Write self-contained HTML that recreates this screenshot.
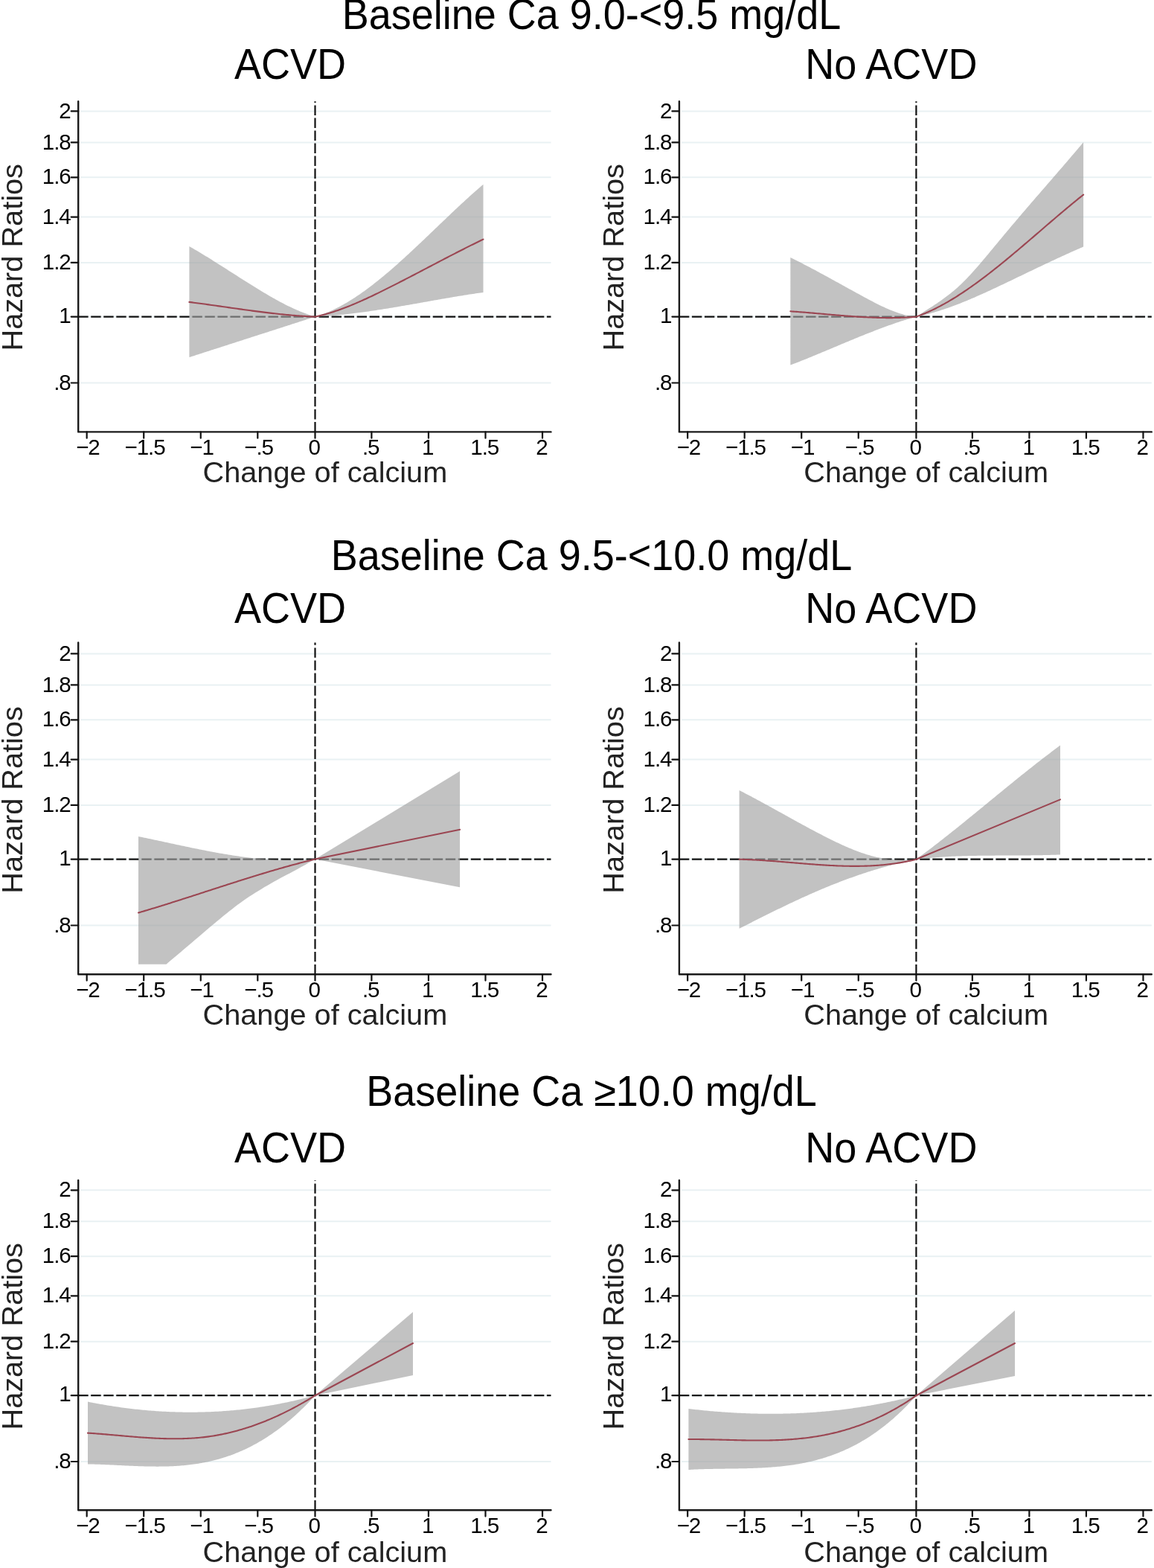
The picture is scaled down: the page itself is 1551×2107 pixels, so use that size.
<!DOCTYPE html><html><head><meta charset="utf-8"><title>Hazard ratios by change of calcium</title>
<style>html,body{margin:0;padding:0;background:#fff;overflow:hidden}svg{display:block}text{font-family:'Liberation Sans', Arial, Helvetica, sans-serif;fill:#000}</style></head><body>
<svg width="1551" height="2107" viewBox="0 0 1551 2107">
<rect width="1551" height="2107" fill="#fff"/>
<text transform="translate(795.05 38.7) scale(1 1.05)" font-size="53.97" text-anchor="middle">Baseline Ca 9.0-&lt;9.5 mg/dL</text>
<g>
<line x1="108.2" y1="149.45" x2="740.5" y2="149.45" stroke="#e9f1f3" stroke-width="2"/>
<line x1="108.2" y1="191.43" x2="740.5" y2="191.43" stroke="#e9f1f3" stroke-width="2"/>
<line x1="108.2" y1="238.35" x2="740.5" y2="238.35" stroke="#e9f1f3" stroke-width="2"/>
<line x1="108.2" y1="291.55" x2="740.5" y2="291.55" stroke="#e9f1f3" stroke-width="2"/>
<line x1="108.2" y1="352.96" x2="740.5" y2="352.96" stroke="#e9f1f3" stroke-width="2"/>
<line x1="108.2" y1="425.6" x2="740.5" y2="425.6" stroke="#e9f1f3" stroke-width="2"/>
<line x1="108.2" y1="514.5" x2="740.5" y2="514.5" stroke="#e9f1f3" stroke-width="2"/>
<line x1="105.2" y1="425.6" x2="740.5" y2="425.6" stroke="#111" stroke-width="2.2" stroke-dasharray="13.4 3.62"/>
<line x1="423.5" y1="580.4" x2="423.5" y2="136.2" stroke="#111" stroke-width="2.2" stroke-dasharray="13.4 3.62"/>
<path d="M254.4 331L256.41 332.15L258.43 333.31L260.44 334.48L262.45 335.66L264.47 336.85L266.48 338.05L268.49 339.25L270.5 340.46L272.52 341.68L274.53 342.91L276.54 344.14L278.56 345.37L280.57 346.62L282.58 347.87L284.6 349.12L286.61 350.38L288.62 351.64L290.64 352.91L292.65 354.18L294.66 355.45L296.68 356.73L298.69 358.01L300.7 359.29L302.71 360.57L304.73 361.86L306.74 363.14L308.75 364.43L310.77 365.71L312.78 367L314.79 368.29L316.81 369.57L318.82 370.86L320.83 372.14L322.85 373.43L324.86 374.71L326.87 375.98L328.88 377.26L330.9 378.53L332.91 379.8L334.92 381.07L336.94 382.33L338.95 383.58L340.96 384.84L342.98 386.08L344.99 387.32L347 388.56L349.02 389.79L351.03 391.01L353.04 392.22L355.05 393.43L357.07 394.62L359.08 395.81L361.09 396.99L363.11 398.15L365.12 399.31L367.13 400.45L369.15 401.58L371.16 402.7L373.17 403.81L375.19 404.9L377.2 405.98L379.21 407.04L381.23 408.09L383.24 409.13L385.25 410.14L387.26 411.14L389.28 412.12L391.29 413.09L393.3 414.03L395.32 414.96L397.33 415.86L399.34 416.75L401.36 417.61L403.37 418.46L405.38 419.28L407.4 420.08L409.41 420.86L411.42 421.61L413.43 422.34L415.45 423.04L417.46 423.72L419.47 424.37L421.49 425L423.5 425.6L425.5 425.01L427.5 424.39L429.5 423.73L431.5 423.05L433.5 422.33L435.5 421.58L437.5 420.8L439.5 419.99L441.5 419.16L443.5 418.29L445.5 417.39L447.5 416.47L449.5 415.51L451.5 414.53L453.5 413.52L455.5 412.49L457.5 411.43L459.5 410.34L461.5 409.23L463.5 408.09L465.5 406.92L467.5 405.74L469.5 404.52L471.5 403.29L473.5 402.03L475.5 400.75L477.5 399.44L479.5 398.12L481.5 396.77L483.5 395.4L485.5 394.01L487.5 392.6L489.5 391.17L491.5 389.72L493.5 388.25L495.5 386.76L497.5 385.25L499.5 383.73L501.5 382.18L503.5 380.62L505.5 379.05L507.5 377.45L509.5 375.85L511.5 374.22L513.5 372.58L515.5 370.93L517.5 369.26L519.5 367.58L521.5 365.88L523.5 364.17L525.5 362.45L527.5 360.71L529.5 358.97L531.5 357.21L533.5 355.44L535.5 353.66L537.5 351.87L539.5 350.07L541.5 348.26L543.5 346.44L545.5 344.61L547.5 342.78L549.5 340.93L551.5 339.08L553.5 337.22L555.5 335.36L557.5 333.49L559.5 331.61L561.5 329.73L563.5 327.84L565.5 325.95L567.5 324.05L569.5 322.15L571.5 320.25L573.5 318.34L575.5 316.43L577.5 314.52L579.5 312.61L581.5 310.7L583.5 308.78L585.5 306.86L587.5 304.95L589.5 303.03L591.5 301.12L593.5 299.2L595.5 297.29L597.5 295.38L599.5 293.47L601.5 291.57L603.5 289.66L605.5 287.77L607.5 285.87L609.5 283.98L611.5 282.09L613.5 280.21L615.5 278.34L617.5 276.47L619.5 274.6L621.5 272.75L623.5 270.9L625.5 269.06L627.5 267.22L629.5 265.4L631.5 263.58L633.5 261.78L635.5 259.98L637.5 258.19L639.5 256.41L641.5 254.65L643.5 252.89L645.5 251.15L647.5 249.42L649.5 247.7L649.5 392.9L647.5 393.18L645.5 393.47L643.5 393.75L641.5 394.05L639.5 394.34L637.5 394.64L635.5 394.94L633.5 395.25L631.5 395.56L629.5 395.87L627.5 396.18L625.5 396.5L623.5 396.82L621.5 397.14L619.5 397.46L617.5 397.79L615.5 398.12L613.5 398.45L611.5 398.79L609.5 399.12L607.5 399.46L605.5 399.8L603.5 400.14L601.5 400.48L599.5 400.83L597.5 401.17L595.5 401.52L593.5 401.87L591.5 402.22L589.5 402.57L587.5 402.92L585.5 403.27L583.5 403.62L581.5 403.98L579.5 404.33L577.5 404.68L575.5 405.04L573.5 405.39L571.5 405.75L569.5 406.1L567.5 406.46L565.5 406.81L563.5 407.17L561.5 407.52L559.5 407.88L557.5 408.23L555.5 408.58L553.5 408.94L551.5 409.29L549.5 409.64L547.5 409.99L545.5 410.34L543.5 410.68L541.5 411.03L539.5 411.37L537.5 411.72L535.5 412.06L533.5 412.4L531.5 412.73L529.5 413.07L527.5 413.4L525.5 413.74L523.5 414.07L521.5 414.39L519.5 414.72L517.5 415.04L515.5 415.36L513.5 415.68L511.5 415.99L509.5 416.3L507.5 416.61L505.5 416.92L503.5 417.22L501.5 417.52L499.5 417.82L497.5 418.11L495.5 418.4L493.5 418.68L491.5 418.96L489.5 419.24L487.5 419.51L485.5 419.78L483.5 420.05L481.5 420.31L479.5 420.57L477.5 420.82L475.5 421.07L473.5 421.31L471.5 421.55L469.5 421.78L467.5 422.01L465.5 422.23L463.5 422.45L461.5 422.67L459.5 422.87L457.5 423.08L455.5 423.27L453.5 423.47L451.5 423.65L449.5 423.83L447.5 424.01L445.5 424.17L443.5 424.34L441.5 424.49L439.5 424.64L437.5 424.79L435.5 424.92L433.5 425.05L431.5 425.18L429.5 425.29L427.5 425.4L425.5 425.51L423.5 425.6L421.49 426.25L419.47 426.9L417.46 427.55L415.45 428.2L413.43 428.85L411.42 429.5L409.41 430.15L407.4 430.8L405.38 431.45L403.37 432.1L401.36 432.75L399.34 433.4L397.33 434.05L395.32 434.7L393.3 435.35L391.29 436L389.28 436.65L387.26 437.29L385.25 437.94L383.24 438.59L381.23 439.24L379.21 439.89L377.2 440.54L375.19 441.19L373.17 441.84L371.16 442.49L369.15 443.14L367.13 443.79L365.12 444.43L363.11 445.08L361.09 445.73L359.08 446.38L357.07 447.03L355.05 447.68L353.04 448.33L351.03 448.97L349.02 449.62L347 450.27L344.99 450.92L342.98 451.57L340.96 452.22L338.95 452.87L336.94 453.51L334.92 454.16L332.91 454.81L330.9 455.46L328.88 456.11L326.87 456.76L324.86 457.4L322.85 458.05L320.83 458.7L318.82 459.35L316.81 460L314.79 460.65L312.78 461.29L310.77 461.94L308.75 462.59L306.74 463.24L304.73 463.89L302.71 464.54L300.7 465.18L298.69 465.83L296.68 466.48L294.66 467.13L292.65 467.78L290.64 468.43L288.62 469.07L286.61 469.72L284.6 470.37L282.58 471.02L280.57 471.67L278.56 472.32L276.54 472.97L274.53 473.61L272.52 474.26L270.5 474.91L268.49 475.56L266.48 476.21L264.47 476.86L262.45 477.51L260.44 478.15L258.43 478.8L256.41 479.45L254.4 480.1Z" fill="#a1a1a1" fill-opacity="0.65"/>
<path d="M254.4 405.9L256.41 406.16L258.43 406.41L260.44 406.67L262.45 406.94L264.47 407.2L266.48 407.47L268.49 407.74L270.5 408.01L272.52 408.28L274.53 408.56L276.54 408.83L278.56 409.11L280.57 409.39L282.58 409.67L284.6 409.95L286.61 410.24L288.62 410.52L290.64 410.8L292.65 411.09L294.66 411.38L296.68 411.66L298.69 411.95L300.7 412.24L302.71 412.52L304.73 412.81L306.74 413.1L308.75 413.39L310.77 413.67L312.78 413.96L314.79 414.25L316.81 414.53L318.82 414.81L320.83 415.1L322.85 415.38L324.86 415.66L326.87 415.94L328.88 416.22L330.9 416.5L332.91 416.77L334.92 417.05L336.94 417.32L338.95 417.59L340.96 417.86L342.98 418.12L344.99 418.38L347 418.65L349.02 418.9L351.03 419.16L353.04 419.41L355.05 419.66L357.07 419.91L359.08 420.15L361.09 420.39L363.11 420.63L365.12 420.86L367.13 421.09L369.15 421.32L371.16 421.54L373.17 421.76L375.19 421.98L377.2 422.19L379.21 422.39L381.23 422.59L383.24 422.79L385.25 422.98L387.26 423.17L389.28 423.35L391.29 423.53L393.3 423.7L395.32 423.87L397.33 424.03L399.34 424.19L401.36 424.34L403.37 424.49L405.38 424.63L407.4 424.76L409.41 424.89L411.42 425.01L413.43 425.12L415.45 425.23L417.46 425.33L419.47 425.43L421.49 425.52L423.5 425.6L425.5 425.17L427.5 424.72L429.5 424.24L431.5 423.75L433.5 423.24L435.5 422.71L437.5 422.16L439.5 421.59L441.5 421.01L443.5 420.4L445.5 419.78L447.5 419.15L449.5 418.5L451.5 417.83L453.5 417.14L455.5 416.45L457.5 415.73L459.5 415L461.5 414.26L463.5 413.5L465.5 412.73L467.5 411.95L469.5 411.16L471.5 410.35L473.5 409.53L475.5 408.7L477.5 407.85L479.5 407L481.5 406.14L483.5 405.26L485.5 404.38L487.5 403.48L489.5 402.58L491.5 401.67L493.5 400.75L495.5 399.82L497.5 398.88L499.5 397.94L501.5 396.99L503.5 396.03L505.5 395.07L507.5 394.1L509.5 393.13L511.5 392.15L513.5 391.16L515.5 390.17L517.5 389.18L519.5 388.18L521.5 387.18L523.5 386.17L525.5 385.17L527.5 384.16L529.5 383.14L531.5 382.12L533.5 381.11L535.5 380.08L537.5 379.06L539.5 378.03L541.5 377L543.5 375.97L545.5 374.94L547.5 373.9L549.5 372.87L551.5 371.83L553.5 370.79L555.5 369.75L557.5 368.71L559.5 367.66L561.5 366.62L563.5 365.57L565.5 364.53L567.5 363.48L569.5 362.43L571.5 361.39L573.5 360.34L575.5 359.29L577.5 358.24L579.5 357.2L581.5 356.15L583.5 355.1L585.5 354.06L587.5 353.01L589.5 351.96L591.5 350.92L593.5 349.88L595.5 348.84L597.5 347.8L599.5 346.76L601.5 345.72L603.5 344.68L605.5 343.65L607.5 342.62L609.5 341.59L611.5 340.56L613.5 339.53L615.5 338.51L617.5 337.49L619.5 336.47L621.5 335.45L623.5 334.44L625.5 333.43L627.5 332.43L629.5 331.42L631.5 330.42L633.5 329.43L635.5 328.44L637.5 327.45L639.5 326.46L641.5 325.48L643.5 324.51L645.5 323.53L647.5 322.57L649.5 321.6" fill="none" stroke="#9b4652" stroke-width="2.1" stroke-linejoin="round" stroke-linecap="round"/>
<path d="M105.2 136.2V580.4H740.5" fill="none" stroke="#1a1a1a" stroke-width="2.4" stroke-linecap="round" stroke-linejoin="round"/>
<line x1="95.7" y1="149.45" x2="105.2" y2="149.45" stroke="#111" stroke-width="2.2" stroke-linecap="round"/>
<text x="94.7" y="158.55" font-size="29.6" text-anchor="end" letter-spacing="-1.1">2</text>
<line x1="95.7" y1="191.43" x2="105.2" y2="191.43" stroke="#111" stroke-width="2.2" stroke-linecap="round"/>
<text x="94.7" y="200.53" font-size="29.6" text-anchor="end" letter-spacing="-1.1">1.8</text>
<line x1="95.7" y1="238.35" x2="105.2" y2="238.35" stroke="#111" stroke-width="2.2" stroke-linecap="round"/>
<text x="94.7" y="247.45" font-size="29.6" text-anchor="end" letter-spacing="-1.1">1.6</text>
<line x1="95.7" y1="291.55" x2="105.2" y2="291.55" stroke="#111" stroke-width="2.2" stroke-linecap="round"/>
<text x="94.7" y="300.65" font-size="29.6" text-anchor="end" letter-spacing="-1.1">1.4</text>
<line x1="95.7" y1="352.96" x2="105.2" y2="352.96" stroke="#111" stroke-width="2.2" stroke-linecap="round"/>
<text x="94.7" y="362.06" font-size="29.6" text-anchor="end" letter-spacing="-1.1">1.2</text>
<line x1="95.7" y1="425.6" x2="105.2" y2="425.6" stroke="#111" stroke-width="2.2" stroke-linecap="round"/>
<text x="94.7" y="433.7" font-size="29.6" text-anchor="end" letter-spacing="-1.1">1</text>
<line x1="95.7" y1="514.5" x2="105.2" y2="514.5" stroke="#111" stroke-width="2.2" stroke-linecap="round"/>
<text x="94.7" y="523.6" font-size="29.6" text-anchor="end" letter-spacing="-1.1">.8</text>
<line x1="116.67" y1="580.4" x2="116.67" y2="588.7" stroke="#111" stroke-width="2.2" stroke-linecap="round"/>
<text x="117.97" y="611.1" font-size="29.6" text-anchor="middle" letter-spacing="-1.1">−2</text>
<line x1="193.22" y1="580.4" x2="193.22" y2="588.7" stroke="#111" stroke-width="2.2" stroke-linecap="round"/>
<text x="194.52" y="611.1" font-size="29.6" text-anchor="middle" letter-spacing="-1.1">−1.5</text>
<line x1="269.76" y1="580.4" x2="269.76" y2="588.7" stroke="#111" stroke-width="2.2" stroke-linecap="round"/>
<text x="271.06" y="611.1" font-size="29.6" text-anchor="middle" letter-spacing="-1.1">−1</text>
<line x1="346.31" y1="580.4" x2="346.31" y2="588.7" stroke="#111" stroke-width="2.2" stroke-linecap="round"/>
<text x="347.61" y="611.1" font-size="29.6" text-anchor="middle" letter-spacing="-1.1">−.5</text>
<line x1="423.5" y1="580.4" x2="423.5" y2="588.7" stroke="#111" stroke-width="2.2" stroke-linecap="round"/>
<text x="422.3" y="611.1" font-size="29.6" text-anchor="middle" letter-spacing="-1.1">0</text>
<line x1="499.4" y1="580.4" x2="499.4" y2="588.7" stroke="#111" stroke-width="2.2" stroke-linecap="round"/>
<text x="498.2" y="611.1" font-size="29.6" text-anchor="middle" letter-spacing="-1.1">.5</text>
<line x1="575.94" y1="580.4" x2="575.94" y2="588.7" stroke="#111" stroke-width="2.2" stroke-linecap="round"/>
<text x="574.74" y="611.1" font-size="29.6" text-anchor="middle" letter-spacing="-1.1">1</text>
<line x1="652.49" y1="580.4" x2="652.49" y2="588.7" stroke="#111" stroke-width="2.2" stroke-linecap="round"/>
<text x="651.28" y="611.1" font-size="29.6" text-anchor="middle" letter-spacing="-1.1">1.5</text>
<line x1="729.03" y1="580.4" x2="729.03" y2="588.7" stroke="#111" stroke-width="2.2" stroke-linecap="round"/>
<text x="727.83" y="611.1" font-size="29.6" text-anchor="middle" letter-spacing="-1.1">2</text>
<text x="436.9" y="648.4" font-size="39.7" text-anchor="middle" style="fill:#222">Change of calcium</text>
<text transform="translate(30.2 345.8) rotate(-90) scale(1 1)" font-size="39.7" text-anchor="middle" style="fill:#222">Hazard Ratios</text>
<text transform="translate(390.05 105.7) scale(1 1.05)" font-size="54.05" text-anchor="middle">ACVD</text>
</g>
<g>
<line x1="915.9" y1="149.45" x2="1547.8" y2="149.45" stroke="#e9f1f3" stroke-width="2"/>
<line x1="915.9" y1="191.43" x2="1547.8" y2="191.43" stroke="#e9f1f3" stroke-width="2"/>
<line x1="915.9" y1="238.35" x2="1547.8" y2="238.35" stroke="#e9f1f3" stroke-width="2"/>
<line x1="915.9" y1="291.55" x2="1547.8" y2="291.55" stroke="#e9f1f3" stroke-width="2"/>
<line x1="915.9" y1="352.96" x2="1547.8" y2="352.96" stroke="#e9f1f3" stroke-width="2"/>
<line x1="915.9" y1="425.6" x2="1547.8" y2="425.6" stroke="#e9f1f3" stroke-width="2"/>
<line x1="915.9" y1="514.5" x2="1547.8" y2="514.5" stroke="#e9f1f3" stroke-width="2"/>
<line x1="912.9" y1="425.6" x2="1547.8" y2="425.6" stroke="#111" stroke-width="2.2" stroke-dasharray="13.4 3.62"/>
<line x1="1231.4" y1="580.4" x2="1231.4" y2="136.2" stroke="#111" stroke-width="2.2" stroke-dasharray="13.4 3.62"/>
<path d="M1062.35 346L1064.36 346.99L1066.38 347.98L1068.39 348.98L1070.4 349.99L1072.41 351.01L1074.42 352.03L1076.44 353.06L1078.45 354.09L1080.46 355.13L1082.47 356.17L1084.49 357.22L1086.5 358.28L1088.51 359.34L1090.52 360.4L1092.54 361.47L1094.55 362.55L1096.56 363.62L1098.58 364.7L1100.59 365.79L1102.6 366.88L1104.61 367.97L1106.62 369.06L1108.64 370.16L1110.65 371.26L1112.66 372.36L1114.67 373.46L1116.69 374.57L1118.7 375.68L1120.71 376.78L1122.72 377.89L1124.74 379L1126.75 380.11L1128.76 381.23L1130.78 382.34L1132.79 383.45L1134.8 384.56L1136.81 385.67L1138.83 386.78L1140.84 387.89L1142.85 389L1144.86 390.11L1146.88 391.21L1148.89 392.32L1150.9 393.42L1152.91 394.52L1154.92 395.62L1156.94 396.71L1158.95 397.8L1160.96 398.89L1162.97 399.98L1164.99 401.06L1167 402.14L1169.01 403.21L1171.03 404.28L1173.04 405.33L1175.05 406.38L1177.06 407.41L1179.08 408.43L1181.09 409.43L1183.1 410.42L1185.11 411.39L1187.12 412.34L1189.14 413.27L1191.15 414.18L1193.16 415.07L1195.17 415.93L1197.19 416.77L1199.2 417.58L1201.21 418.35L1203.23 419.1L1205.24 419.82L1207.25 420.5L1209.26 421.15L1211.28 421.77L1213.29 422.34L1215.3 422.88L1217.31 423.38L1219.33 423.83L1221.34 424.24L1223.35 424.61L1225.36 424.93L1227.38 425.2L1229.39 425.43L1231.4 425.6L1233.41 424.29L1235.41 422.98L1237.42 421.69L1239.43 420.4L1241.43 419.12L1243.44 417.84L1245.44 416.56L1247.45 415.27L1249.46 413.99L1251.46 412.69L1253.47 411.38L1255.48 410.07L1257.48 408.74L1259.49 407.39L1261.49 406.03L1263.5 404.64L1265.51 403.24L1267.51 401.81L1269.52 400.35L1271.53 398.86L1273.53 397.34L1275.54 395.79L1277.54 394.21L1279.55 392.58L1281.56 390.92L1283.56 389.21L1285.57 387.46L1287.58 385.66L1289.58 383.81L1291.59 381.92L1293.59 379.97L1295.6 377.98L1297.61 375.95L1299.61 373.88L1301.62 371.78L1303.62 369.63L1305.63 367.45L1307.64 365.24L1309.64 363.01L1311.65 360.74L1313.66 358.45L1315.66 356.14L1317.67 353.8L1319.67 351.45L1321.68 349.09L1323.69 346.71L1325.69 344.31L1327.7 341.91L1329.71 339.5L1331.71 337.09L1333.72 334.67L1335.72 332.25L1337.73 329.83L1339.74 327.4L1341.74 324.98L1343.75 322.56L1345.76 320.14L1347.76 317.72L1349.77 315.32L1351.78 312.91L1353.78 310.52L1355.79 308.13L1357.79 305.75L1359.8 303.37L1361.81 300.99L1363.81 298.63L1365.82 296.26L1367.83 293.9L1369.83 291.55L1371.84 289.2L1373.84 286.85L1375.85 284.51L1377.86 282.17L1379.86 279.83L1381.87 277.5L1383.88 275.17L1385.88 272.84L1387.89 270.52L1389.89 268.19L1391.9 265.87L1393.91 263.55L1395.91 261.23L1397.92 258.91L1399.92 256.6L1401.93 254.28L1403.94 251.97L1405.94 249.65L1407.95 247.34L1409.96 245.02L1411.96 242.71L1413.97 240.39L1415.97 238.07L1417.98 235.75L1419.99 233.43L1421.99 231.11L1424 228.79L1426.01 226.46L1428.01 224.14L1430.02 221.81L1432.02 219.48L1434.03 217.14L1436.04 214.8L1438.04 212.46L1440.05 210.12L1442.06 207.77L1444.06 205.41L1446.07 203.06L1448.07 200.7L1450.08 198.33L1452.09 195.96L1454.09 193.58L1456.1 191.2L1456.1 331.6L1454.09 332.46L1452.09 333.33L1450.08 334.2L1448.07 335.07L1446.07 335.95L1444.06 336.84L1442.06 337.73L1440.05 338.62L1438.04 339.52L1436.04 340.42L1434.03 341.32L1432.02 342.23L1430.02 343.15L1428.01 344.06L1426.01 344.98L1424 345.91L1421.99 346.83L1419.99 347.76L1417.98 348.7L1415.97 349.63L1413.97 350.57L1411.96 351.51L1409.96 352.45L1407.95 353.4L1405.94 354.35L1403.94 355.3L1401.93 356.25L1399.92 357.2L1397.92 358.15L1395.91 359.11L1393.91 360.07L1391.9 361.03L1389.89 361.99L1387.89 362.95L1385.88 363.91L1383.88 364.87L1381.87 365.83L1379.86 366.8L1377.86 367.76L1375.85 368.73L1373.84 369.69L1371.84 370.65L1369.83 371.62L1367.83 372.58L1365.82 373.54L1363.81 374.5L1361.81 375.47L1359.8 376.43L1357.79 377.39L1355.79 378.34L1353.78 379.3L1351.78 380.26L1349.77 381.21L1347.76 382.16L1345.76 383.11L1343.75 384.06L1341.74 385.01L1339.74 385.95L1337.73 386.89L1335.72 387.83L1333.72 388.77L1331.71 389.7L1329.71 390.63L1327.7 391.55L1325.69 392.47L1323.69 393.38L1321.68 394.29L1319.67 395.2L1317.67 396.09L1315.66 396.99L1313.66 397.87L1311.65 398.75L1309.64 399.63L1307.64 400.49L1305.63 401.35L1303.62 402.21L1301.62 403.05L1299.61 403.89L1297.61 404.71L1295.6 405.53L1293.59 406.34L1291.59 407.15L1289.58 407.94L1287.58 408.72L1285.57 409.49L1283.56 410.26L1281.56 411.01L1279.55 411.75L1277.54 412.48L1275.54 413.2L1273.53 413.91L1271.53 414.6L1269.52 415.29L1267.51 415.96L1265.51 416.62L1263.5 417.26L1261.49 417.89L1259.49 418.51L1257.48 419.12L1255.48 419.71L1253.47 420.28L1251.46 420.85L1249.46 421.39L1247.45 421.93L1245.44 422.44L1243.44 422.94L1241.43 423.43L1239.43 423.9L1237.42 424.35L1235.41 424.78L1233.41 425.2L1231.4 425.6L1229.39 426.15L1227.38 426.72L1225.36 427.3L1223.35 427.89L1221.34 428.48L1219.33 429.09L1217.31 429.71L1215.3 430.34L1213.29 430.98L1211.28 431.62L1209.26 432.28L1207.25 432.95L1205.24 433.62L1203.23 434.3L1201.21 434.99L1199.2 435.69L1197.19 436.39L1195.17 437.11L1193.16 437.83L1191.15 438.56L1189.14 439.29L1187.12 440.03L1185.11 440.78L1183.1 441.53L1181.09 442.29L1179.08 443.06L1177.06 443.83L1175.05 444.61L1173.04 445.39L1171.03 446.17L1169.01 446.97L1167 447.76L1164.99 448.56L1162.97 449.37L1160.96 450.17L1158.95 450.98L1156.94 451.8L1154.92 452.62L1152.91 453.44L1150.9 454.26L1148.89 455.09L1146.88 455.92L1144.86 456.75L1142.85 457.59L1140.84 458.42L1138.83 459.26L1136.81 460.1L1134.8 460.94L1132.79 461.78L1130.78 462.62L1128.76 463.47L1126.75 464.31L1124.74 465.16L1122.72 466L1120.71 466.85L1118.7 467.69L1116.69 468.54L1114.67 469.38L1112.66 470.23L1110.65 471.07L1108.64 471.91L1106.62 472.75L1104.61 473.59L1102.6 474.43L1100.59 475.27L1098.58 476.1L1096.56 476.93L1094.55 477.77L1092.54 478.59L1090.52 479.42L1088.51 480.24L1086.5 481.06L1084.49 481.88L1082.47 482.69L1080.46 483.5L1078.45 484.31L1076.44 485.11L1074.42 485.91L1072.41 486.7L1070.4 487.49L1068.39 488.27L1066.38 489.05L1064.36 489.83L1062.35 490.6Z" fill="#a1a1a1" fill-opacity="0.65"/>
<path d="M1062.35 418.3L1064.36 418.44L1066.38 418.58L1068.39 418.72L1070.4 418.87L1072.41 419.02L1074.42 419.18L1076.44 419.34L1078.45 419.5L1080.46 419.66L1082.47 419.82L1084.49 419.99L1086.5 420.16L1088.51 420.33L1090.52 420.5L1092.54 420.67L1094.55 420.85L1096.56 421.02L1098.58 421.2L1100.59 421.38L1102.6 421.55L1104.61 421.73L1106.62 421.91L1108.64 422.09L1110.65 422.27L1112.66 422.44L1114.67 422.62L1116.69 422.8L1118.7 422.97L1120.71 423.14L1122.72 423.32L1124.74 423.49L1126.75 423.66L1128.76 423.82L1130.78 423.99L1132.79 424.15L1134.8 424.31L1136.81 424.47L1138.83 424.62L1140.84 424.78L1142.85 424.92L1144.86 425.07L1146.88 425.21L1148.89 425.35L1150.9 425.48L1152.91 425.61L1154.92 425.74L1156.94 425.86L1158.95 425.98L1160.96 426.09L1162.97 426.2L1164.99 426.3L1167 426.4L1169.01 426.49L1171.03 426.57L1173.04 426.65L1175.05 426.73L1177.06 426.8L1179.08 426.86L1181.09 426.91L1183.1 426.96L1185.11 427L1187.12 427.03L1189.14 427.06L1191.15 427.08L1193.16 427.09L1195.17 427.09L1197.19 427.09L1199.2 427.08L1201.21 427.05L1203.23 427.02L1205.24 426.98L1207.25 426.94L1209.26 426.88L1211.28 426.81L1213.29 426.74L1215.3 426.65L1217.31 426.56L1219.33 426.45L1221.34 426.34L1223.35 426.21L1225.36 426.08L1227.38 425.93L1229.39 425.77L1231.4 425.6L1233.41 424.88L1235.41 424.14L1237.42 423.37L1239.43 422.58L1241.43 421.77L1243.44 420.93L1245.44 420.07L1247.45 419.18L1249.46 418.28L1251.46 417.35L1253.47 416.4L1255.48 415.43L1257.48 414.44L1259.49 413.43L1261.49 412.39L1263.5 411.34L1265.51 410.27L1267.51 409.18L1269.52 408.07L1271.53 406.93L1273.53 405.79L1275.54 404.62L1277.54 403.43L1279.55 402.23L1281.56 401.01L1283.56 399.77L1285.57 398.52L1287.58 397.24L1289.58 395.96L1291.59 394.65L1293.59 393.33L1295.6 392L1297.61 390.65L1299.61 389.28L1301.62 387.9L1303.62 386.51L1305.63 385.1L1307.64 383.68L1309.64 382.25L1311.65 380.8L1313.66 379.34L1315.66 377.87L1317.67 376.38L1319.67 374.88L1321.68 373.38L1323.69 371.86L1325.69 370.33L1327.7 368.79L1329.71 367.23L1331.71 365.67L1333.72 364.1L1335.72 362.52L1337.73 360.93L1339.74 359.33L1341.74 357.73L1343.75 356.11L1345.76 354.49L1347.76 352.86L1349.77 351.22L1351.78 349.57L1353.78 347.92L1355.79 346.26L1357.79 344.59L1359.8 342.92L1361.81 341.25L1363.81 339.57L1365.82 337.88L1367.83 336.19L1369.83 334.49L1371.84 332.79L1373.84 331.09L1375.85 329.38L1377.86 327.67L1379.86 325.95L1381.87 324.24L1383.88 322.52L1385.88 320.8L1387.89 319.08L1389.89 317.35L1391.9 315.63L1393.91 313.9L1395.91 312.18L1397.92 310.45L1399.92 308.72L1401.93 307L1403.94 305.27L1405.94 303.55L1407.95 301.82L1409.96 300.1L1411.96 298.38L1413.97 296.66L1415.97 294.95L1417.98 293.23L1419.99 291.52L1421.99 289.82L1424 288.12L1426.01 286.42L1428.01 284.72L1430.02 283.03L1432.02 281.35L1434.03 279.67L1436.04 277.99L1438.04 276.32L1440.05 274.66L1442.06 273L1444.06 271.35L1446.07 269.71L1448.07 268.07L1450.08 266.44L1452.09 264.82L1454.09 263.21L1456.1 261.6" fill="none" stroke="#9b4652" stroke-width="2.1" stroke-linejoin="round" stroke-linecap="round"/>
<path d="M912.9 136.2V580.4H1547.8" fill="none" stroke="#1a1a1a" stroke-width="2.4" stroke-linecap="round" stroke-linejoin="round"/>
<line x1="903.4" y1="149.45" x2="912.9" y2="149.45" stroke="#111" stroke-width="2.2" stroke-linecap="round"/>
<text x="902.4" y="158.55" font-size="29.6" text-anchor="end" letter-spacing="-1.1">2</text>
<line x1="903.4" y1="191.43" x2="912.9" y2="191.43" stroke="#111" stroke-width="2.2" stroke-linecap="round"/>
<text x="902.4" y="200.53" font-size="29.6" text-anchor="end" letter-spacing="-1.1">1.8</text>
<line x1="903.4" y1="238.35" x2="912.9" y2="238.35" stroke="#111" stroke-width="2.2" stroke-linecap="round"/>
<text x="902.4" y="247.45" font-size="29.6" text-anchor="end" letter-spacing="-1.1">1.6</text>
<line x1="903.4" y1="291.55" x2="912.9" y2="291.55" stroke="#111" stroke-width="2.2" stroke-linecap="round"/>
<text x="902.4" y="300.65" font-size="29.6" text-anchor="end" letter-spacing="-1.1">1.4</text>
<line x1="903.4" y1="352.96" x2="912.9" y2="352.96" stroke="#111" stroke-width="2.2" stroke-linecap="round"/>
<text x="902.4" y="362.06" font-size="29.6" text-anchor="end" letter-spacing="-1.1">1.2</text>
<line x1="903.4" y1="425.6" x2="912.9" y2="425.6" stroke="#111" stroke-width="2.2" stroke-linecap="round"/>
<text x="902.4" y="433.7" font-size="29.6" text-anchor="end" letter-spacing="-1.1">1</text>
<line x1="903.4" y1="514.5" x2="912.9" y2="514.5" stroke="#111" stroke-width="2.2" stroke-linecap="round"/>
<text x="902.4" y="523.6" font-size="29.6" text-anchor="end" letter-spacing="-1.1">.8</text>
<line x1="924.14" y1="580.4" x2="924.14" y2="588.7" stroke="#111" stroke-width="2.2" stroke-linecap="round"/>
<text x="925.44" y="611.1" font-size="29.6" text-anchor="middle" letter-spacing="-1.1">−2</text>
<line x1="1000.68" y1="580.4" x2="1000.68" y2="588.7" stroke="#111" stroke-width="2.2" stroke-linecap="round"/>
<text x="1001.98" y="611.1" font-size="29.6" text-anchor="middle" letter-spacing="-1.1">−1.5</text>
<line x1="1077.22" y1="580.4" x2="1077.22" y2="588.7" stroke="#111" stroke-width="2.2" stroke-linecap="round"/>
<text x="1078.52" y="611.1" font-size="29.6" text-anchor="middle" letter-spacing="-1.1">−1</text>
<line x1="1153.76" y1="580.4" x2="1153.76" y2="588.7" stroke="#111" stroke-width="2.2" stroke-linecap="round"/>
<text x="1155.06" y="611.1" font-size="29.6" text-anchor="middle" letter-spacing="-1.1">−.5</text>
<line x1="1231.4" y1="580.4" x2="1231.4" y2="588.7" stroke="#111" stroke-width="2.2" stroke-linecap="round"/>
<text x="1230.2" y="611.1" font-size="29.6" text-anchor="middle" letter-spacing="-1.1">0</text>
<line x1="1306.84" y1="580.4" x2="1306.84" y2="588.7" stroke="#111" stroke-width="2.2" stroke-linecap="round"/>
<text x="1305.64" y="611.1" font-size="29.6" text-anchor="middle" letter-spacing="-1.1">.5</text>
<line x1="1383.38" y1="580.4" x2="1383.38" y2="588.7" stroke="#111" stroke-width="2.2" stroke-linecap="round"/>
<text x="1382.18" y="611.1" font-size="29.6" text-anchor="middle" letter-spacing="-1.1">1</text>
<line x1="1459.92" y1="580.4" x2="1459.92" y2="588.7" stroke="#111" stroke-width="2.2" stroke-linecap="round"/>
<text x="1458.72" y="611.1" font-size="29.6" text-anchor="middle" letter-spacing="-1.1">1.5</text>
<line x1="1536.46" y1="580.4" x2="1536.46" y2="588.7" stroke="#111" stroke-width="2.2" stroke-linecap="round"/>
<text x="1535.26" y="611.1" font-size="29.6" text-anchor="middle" letter-spacing="-1.1">2</text>
<text x="1244.6" y="648.4" font-size="39.7" text-anchor="middle" style="fill:#222">Change of calcium</text>
<text transform="translate(837.9 345.8) rotate(-90) scale(1 1)" font-size="39.7" text-anchor="middle" style="fill:#222">Hazard Ratios</text>
<text transform="translate(1197.8 105.7) scale(1 1.05)" font-size="54.05" text-anchor="middle">No ACVD</text>
</g>
<text transform="translate(795.05 765.8) scale(1 1.05)" font-size="53.97" text-anchor="middle">Baseline Ca 9.5-&lt;10.0 mg/dL</text>
<g>
<line x1="108.2" y1="878.45" x2="740.5" y2="878.45" stroke="#e9f1f3" stroke-width="2"/>
<line x1="108.2" y1="920.43" x2="740.5" y2="920.43" stroke="#e9f1f3" stroke-width="2"/>
<line x1="108.2" y1="967.35" x2="740.5" y2="967.35" stroke="#e9f1f3" stroke-width="2"/>
<line x1="108.2" y1="1020.55" x2="740.5" y2="1020.55" stroke="#e9f1f3" stroke-width="2"/>
<line x1="108.2" y1="1081.96" x2="740.5" y2="1081.96" stroke="#e9f1f3" stroke-width="2"/>
<line x1="108.2" y1="1154.6" x2="740.5" y2="1154.6" stroke="#e9f1f3" stroke-width="2"/>
<line x1="108.2" y1="1243.5" x2="740.5" y2="1243.5" stroke="#e9f1f3" stroke-width="2"/>
<line x1="105.2" y1="1154.6" x2="740.5" y2="1154.6" stroke="#111" stroke-width="2.2" stroke-dasharray="13.4 3.62"/>
<line x1="423.5" y1="1309.3" x2="423.5" y2="863.4" stroke="#111" stroke-width="2.2" stroke-dasharray="13.4 3.62"/>
<path d="M186 1124L188.01 1124.41L190.03 1124.83L192.04 1125.24L194.05 1125.66L196.06 1126.08L198.08 1126.5L200.09 1126.93L202.1 1127.35L204.11 1127.78L206.13 1128.21L208.14 1128.64L210.15 1129.07L212.17 1129.5L214.18 1129.93L216.19 1130.37L218.2 1130.8L220.22 1131.23L222.23 1131.67L224.24 1132.1L226.25 1132.53L228.27 1132.97L230.28 1133.4L232.29 1133.84L234.31 1134.27L236.32 1134.7L238.33 1135.13L240.34 1135.56L242.36 1135.99L244.37 1136.42L246.38 1136.85L248.39 1137.27L250.41 1137.7L252.42 1138.12L254.43 1138.54L256.44 1138.96L258.46 1139.38L260.47 1139.79L262.48 1140.2L264.5 1140.61L266.51 1141.02L268.52 1141.42L270.53 1141.83L272.55 1142.22L274.56 1142.62L276.57 1143.01L278.58 1143.4L280.6 1143.79L282.61 1144.17L284.62 1144.55L286.64 1144.92L288.65 1145.3L290.66 1145.66L292.67 1146.03L294.69 1146.38L296.7 1146.74L298.71 1147.09L300.72 1147.43L302.74 1147.77L304.75 1148.11L306.76 1148.44L308.78 1148.76L310.79 1149.08L312.8 1149.39L314.81 1149.7L316.83 1150L318.84 1150.3L320.85 1150.59L322.86 1150.88L324.88 1151.15L326.89 1151.43L328.9 1151.69L330.92 1151.95L332.93 1152.2L334.94 1152.45L336.95 1152.69L338.97 1152.92L340.98 1153.14L342.99 1153.36L345 1153.57L347.02 1153.77L349.03 1153.96L351.04 1154.15L353.06 1154.32L355.07 1154.49L357.08 1154.65L359.09 1154.81L361.11 1154.95L363.12 1155.09L365.13 1155.21L367.14 1155.33L369.16 1155.44L371.17 1155.54L373.18 1155.63L375.19 1155.71L377.21 1155.78L379.22 1155.84L381.23 1155.9L383.25 1155.94L385.26 1155.97L387.27 1155.99L389.28 1156L391.3 1156L393.31 1155.99L395.32 1155.97L397.33 1155.94L399.35 1155.9L401.36 1155.85L403.37 1155.78L405.39 1155.71L407.4 1155.62L409.41 1155.52L411.42 1155.41L413.44 1155.29L415.45 1155.16L417.46 1155.01L419.47 1154.85L421.49 1154.68L423.5 1154.5L618.1 1036.3L618.1 1192.3L423.5 1154.5L420.27 1156.31L417.12 1158.1L413.99 1159.87L410.85 1161.64L407.65 1163.45L404.36 1165.29L400.92 1167.2L397.3 1169.2L393.47 1171.27L389.45 1173.41L385.3 1175.59L381.04 1177.83L376.73 1180.11L372.41 1182.44L368.12 1184.8L363.9 1187.2L359.71 1189.63L355.5 1192.11L351.27 1194.63L347.06 1197.19L342.86 1199.78L338.71 1202.42L334.62 1205.09L330.6 1207.8L326.72 1210.5L323 1213.16L319.37 1215.84L315.76 1218.57L312.12 1221.39L308.37 1224.34L304.45 1227.46L300.3 1230.8L295.9 1234.39L291.29 1238.21L286.53 1242.22L281.66 1246.35L276.73 1250.56L271.78 1254.79L266.85 1258.98L262 1263.1L257.2 1267.16L252.39 1271.23L247.58 1275.3L242.76 1279.38L237.95 1283.46L233.13 1287.54L228.31 1291.62L223.5 1295.7L186 1295.7Z" fill="#a1a1a1" fill-opacity="0.65"/>
<path d="M186 1226.5L188.01 1225.91L190.03 1225.32L192.04 1224.72L194.05 1224.13L196.06 1223.53L198.08 1222.93L200.09 1222.32L202.1 1221.71L204.11 1221.11L206.13 1220.49L208.14 1219.88L210.15 1219.26L212.17 1218.65L214.18 1218.02L216.19 1217.4L218.2 1216.78L220.22 1216.15L222.23 1215.52L224.24 1214.89L226.25 1214.26L228.27 1213.63L230.28 1213L232.29 1212.36L234.31 1211.72L236.32 1211.08L238.33 1210.44L240.34 1209.8L242.36 1209.16L244.37 1208.52L246.38 1207.87L248.39 1207.23L250.41 1206.58L252.42 1205.93L254.43 1205.28L256.44 1204.64L258.46 1203.99L260.47 1203.34L262.48 1202.68L264.5 1202.03L266.51 1201.38L268.52 1200.73L270.53 1200.08L272.55 1199.43L274.56 1198.77L276.57 1198.12L278.58 1197.47L280.6 1196.81L282.61 1196.16L284.62 1195.51L286.64 1194.86L288.65 1194.21L290.66 1193.55L292.67 1192.9L294.69 1192.25L296.7 1191.6L298.71 1190.95L300.72 1190.3L302.74 1189.66L304.75 1189.01L306.76 1188.36L308.78 1187.72L310.79 1187.07L312.8 1186.43L314.81 1185.79L316.83 1185.14L318.84 1184.5L320.85 1183.87L322.86 1183.23L324.88 1182.59L326.89 1181.96L328.9 1181.32L330.92 1180.69L332.93 1180.06L334.94 1179.44L336.95 1178.81L338.97 1178.19L340.98 1177.56L342.99 1176.94L345 1176.32L347.02 1175.71L349.03 1175.1L351.04 1174.48L353.06 1173.87L355.07 1173.27L357.08 1172.66L359.09 1172.06L361.11 1171.46L363.12 1170.86L365.13 1170.27L367.14 1169.68L369.16 1169.09L371.17 1168.5L373.18 1167.92L375.19 1167.34L377.21 1166.77L379.22 1166.19L381.23 1165.62L383.25 1165.06L385.26 1164.49L387.27 1163.93L389.28 1163.37L391.3 1162.82L393.31 1162.27L395.32 1161.73L397.33 1161.18L399.35 1160.64L401.36 1160.11L403.37 1159.58L405.39 1159.05L407.4 1158.53L409.41 1158.01L411.42 1157.5L413.44 1156.99L415.45 1156.48L417.46 1155.98L419.47 1155.48L421.49 1154.99L423.5 1154.5L618.1 1114.8" fill="none" stroke="#9b4652" stroke-width="2.1" stroke-linejoin="round" stroke-linecap="round"/>
<path d="M105.2 863.4V1309.3H740.5" fill="none" stroke="#1a1a1a" stroke-width="2.4" stroke-linecap="round" stroke-linejoin="round"/>
<line x1="95.7" y1="878.45" x2="105.2" y2="878.45" stroke="#111" stroke-width="2.2" stroke-linecap="round"/>
<text x="94.7" y="887.55" font-size="29.6" text-anchor="end" letter-spacing="-1.1">2</text>
<line x1="95.7" y1="920.43" x2="105.2" y2="920.43" stroke="#111" stroke-width="2.2" stroke-linecap="round"/>
<text x="94.7" y="929.53" font-size="29.6" text-anchor="end" letter-spacing="-1.1">1.8</text>
<line x1="95.7" y1="967.35" x2="105.2" y2="967.35" stroke="#111" stroke-width="2.2" stroke-linecap="round"/>
<text x="94.7" y="976.45" font-size="29.6" text-anchor="end" letter-spacing="-1.1">1.6</text>
<line x1="95.7" y1="1020.55" x2="105.2" y2="1020.55" stroke="#111" stroke-width="2.2" stroke-linecap="round"/>
<text x="94.7" y="1029.65" font-size="29.6" text-anchor="end" letter-spacing="-1.1">1.4</text>
<line x1="95.7" y1="1081.96" x2="105.2" y2="1081.96" stroke="#111" stroke-width="2.2" stroke-linecap="round"/>
<text x="94.7" y="1091.06" font-size="29.6" text-anchor="end" letter-spacing="-1.1">1.2</text>
<line x1="95.7" y1="1154.6" x2="105.2" y2="1154.6" stroke="#111" stroke-width="2.2" stroke-linecap="round"/>
<text x="94.7" y="1162.7" font-size="29.6" text-anchor="end" letter-spacing="-1.1">1</text>
<line x1="95.7" y1="1243.5" x2="105.2" y2="1243.5" stroke="#111" stroke-width="2.2" stroke-linecap="round"/>
<text x="94.7" y="1252.6" font-size="29.6" text-anchor="end" letter-spacing="-1.1">.8</text>
<line x1="116.67" y1="1309.3" x2="116.67" y2="1317.6" stroke="#111" stroke-width="2.2" stroke-linecap="round"/>
<text x="117.97" y="1340" font-size="29.6" text-anchor="middle" letter-spacing="-1.1">−2</text>
<line x1="193.22" y1="1309.3" x2="193.22" y2="1317.6" stroke="#111" stroke-width="2.2" stroke-linecap="round"/>
<text x="194.52" y="1340" font-size="29.6" text-anchor="middle" letter-spacing="-1.1">−1.5</text>
<line x1="269.76" y1="1309.3" x2="269.76" y2="1317.6" stroke="#111" stroke-width="2.2" stroke-linecap="round"/>
<text x="271.06" y="1340" font-size="29.6" text-anchor="middle" letter-spacing="-1.1">−1</text>
<line x1="346.31" y1="1309.3" x2="346.31" y2="1317.6" stroke="#111" stroke-width="2.2" stroke-linecap="round"/>
<text x="347.61" y="1340" font-size="29.6" text-anchor="middle" letter-spacing="-1.1">−.5</text>
<line x1="423.5" y1="1309.3" x2="423.5" y2="1317.6" stroke="#111" stroke-width="2.2" stroke-linecap="round"/>
<text x="422.3" y="1340" font-size="29.6" text-anchor="middle" letter-spacing="-1.1">0</text>
<line x1="499.4" y1="1309.3" x2="499.4" y2="1317.6" stroke="#111" stroke-width="2.2" stroke-linecap="round"/>
<text x="498.2" y="1340" font-size="29.6" text-anchor="middle" letter-spacing="-1.1">.5</text>
<line x1="575.94" y1="1309.3" x2="575.94" y2="1317.6" stroke="#111" stroke-width="2.2" stroke-linecap="round"/>
<text x="574.74" y="1340" font-size="29.6" text-anchor="middle" letter-spacing="-1.1">1</text>
<line x1="652.49" y1="1309.3" x2="652.49" y2="1317.6" stroke="#111" stroke-width="2.2" stroke-linecap="round"/>
<text x="651.28" y="1340" font-size="29.6" text-anchor="middle" letter-spacing="-1.1">1.5</text>
<line x1="729.03" y1="1309.3" x2="729.03" y2="1317.6" stroke="#111" stroke-width="2.2" stroke-linecap="round"/>
<text x="727.83" y="1340" font-size="29.6" text-anchor="middle" letter-spacing="-1.1">2</text>
<text x="436.9" y="1377.2" font-size="39.7" text-anchor="middle" style="fill:#222">Change of calcium</text>
<text transform="translate(30.2 1075) rotate(-90) scale(1 1)" font-size="39.7" text-anchor="middle" style="fill:#222">Hazard Ratios</text>
<text transform="translate(390.05 836.9) scale(1 1.05)" font-size="54.05" text-anchor="middle">ACVD</text>
</g>
<g>
<line x1="915.9" y1="878.45" x2="1547.8" y2="878.45" stroke="#e9f1f3" stroke-width="2"/>
<line x1="915.9" y1="920.43" x2="1547.8" y2="920.43" stroke="#e9f1f3" stroke-width="2"/>
<line x1="915.9" y1="967.35" x2="1547.8" y2="967.35" stroke="#e9f1f3" stroke-width="2"/>
<line x1="915.9" y1="1020.55" x2="1547.8" y2="1020.55" stroke="#e9f1f3" stroke-width="2"/>
<line x1="915.9" y1="1081.96" x2="1547.8" y2="1081.96" stroke="#e9f1f3" stroke-width="2"/>
<line x1="915.9" y1="1154.6" x2="1547.8" y2="1154.6" stroke="#e9f1f3" stroke-width="2"/>
<line x1="915.9" y1="1243.5" x2="1547.8" y2="1243.5" stroke="#e9f1f3" stroke-width="2"/>
<line x1="912.9" y1="1154.6" x2="1547.8" y2="1154.6" stroke="#111" stroke-width="2.2" stroke-dasharray="13.4 3.62"/>
<line x1="1231.4" y1="1309.3" x2="1231.4" y2="863.4" stroke="#111" stroke-width="2.2" stroke-dasharray="13.4 3.62"/>
<path d="M993.6 1062L995.61 1063.02L997.63 1064.05L999.64 1065.09L1001.66 1066.13L1003.67 1067.18L1005.69 1068.23L1007.7 1069.29L1009.72 1070.35L1011.73 1071.42L1013.74 1072.5L1015.76 1073.58L1017.77 1074.66L1019.79 1075.74L1021.8 1076.84L1023.82 1077.93L1025.83 1079.03L1027.84 1080.13L1029.86 1081.23L1031.87 1082.33L1033.89 1083.44L1035.9 1084.55L1037.92 1085.66L1039.93 1086.78L1041.95 1087.89L1043.96 1089.01L1045.97 1090.13L1047.99 1091.24L1050 1092.36L1052.02 1093.48L1054.03 1094.6L1056.05 1095.72L1058.06 1096.84L1060.08 1097.95L1062.09 1099.07L1064.1 1100.18L1066.12 1101.3L1068.13 1102.41L1070.15 1103.52L1072.16 1104.63L1074.18 1105.73L1076.19 1106.83L1078.21 1107.93L1080.22 1109.03L1082.23 1110.12L1084.25 1111.21L1086.26 1112.3L1088.28 1113.38L1090.29 1114.46L1092.31 1115.53L1094.32 1116.6L1096.33 1117.66L1098.35 1118.72L1100.36 1119.78L1102.38 1120.82L1104.39 1121.86L1106.41 1122.9L1108.42 1123.93L1110.44 1124.95L1112.45 1125.96L1114.46 1126.97L1116.48 1127.97L1118.49 1128.97L1120.51 1129.95L1122.52 1130.92L1124.54 1131.89L1126.55 1132.84L1128.57 1133.79L1130.58 1134.72L1132.59 1135.64L1134.61 1136.54L1136.62 1137.44L1138.64 1138.31L1140.65 1139.18L1142.67 1140.03L1144.68 1140.86L1146.69 1141.67L1148.71 1142.47L1150.72 1143.25L1152.74 1144.01L1154.75 1144.75L1156.77 1145.47L1158.78 1146.17L1160.8 1146.85L1162.81 1147.5L1164.82 1148.14L1166.84 1148.75L1168.85 1149.34L1170.87 1149.9L1172.88 1150.44L1174.9 1150.95L1176.91 1151.43L1178.93 1151.89L1180.94 1152.33L1182.95 1152.74L1184.97 1153.12L1186.98 1153.48L1189 1153.81L1191.01 1154.11L1193.03 1154.39L1195.04 1154.65L1197.06 1154.87L1199.07 1155.08L1201.08 1155.25L1203.1 1155.4L1205.11 1155.53L1207.13 1155.63L1209.14 1155.7L1211.16 1155.75L1213.17 1155.77L1215.18 1155.76L1217.2 1155.73L1219.21 1155.68L1221.23 1155.59L1223.24 1155.49L1225.26 1155.35L1227.27 1155.19L1229.29 1155.01L1231.3 1154.8L1233.32 1153.32L1235.34 1151.84L1237.35 1150.34L1239.37 1148.84L1241.39 1147.34L1243.41 1145.83L1245.42 1144.31L1247.44 1142.78L1249.46 1141.25L1251.48 1139.71L1253.49 1138.17L1255.51 1136.62L1257.53 1135.06L1259.55 1133.5L1261.57 1131.93L1263.58 1130.36L1265.6 1128.78L1267.62 1127.2L1269.64 1125.62L1271.65 1124.03L1273.67 1122.43L1275.69 1120.83L1277.71 1119.23L1279.72 1117.62L1281.74 1116.01L1283.76 1114.4L1285.78 1112.78L1287.8 1111.16L1289.81 1109.53L1291.83 1107.9L1293.85 1106.27L1295.87 1104.64L1297.88 1103.01L1299.9 1101.37L1301.92 1099.73L1303.94 1098.08L1305.96 1096.44L1307.97 1094.79L1309.99 1093.15L1312.01 1091.5L1314.03 1089.85L1316.04 1088.2L1318.06 1086.54L1320.08 1084.89L1322.1 1083.24L1324.11 1081.58L1326.13 1079.93L1328.15 1078.27L1330.17 1076.62L1332.19 1074.96L1334.2 1073.31L1336.22 1071.65L1338.24 1070L1340.26 1068.35L1342.27 1066.69L1344.29 1065.04L1346.31 1063.39L1348.33 1061.74L1350.34 1060.1L1352.36 1058.45L1354.38 1056.81L1356.4 1055.17L1358.42 1053.53L1360.43 1051.89L1362.45 1050.25L1364.47 1048.62L1366.49 1046.99L1368.5 1045.36L1370.52 1043.74L1372.54 1042.12L1374.56 1040.5L1376.58 1038.89L1378.59 1037.28L1380.61 1035.67L1382.63 1034.07L1384.65 1032.47L1386.66 1030.88L1388.68 1029.29L1390.7 1027.7L1392.72 1026.12L1394.73 1024.54L1396.75 1022.97L1398.77 1021.41L1400.79 1019.85L1402.81 1018.29L1404.82 1016.75L1406.84 1015.2L1408.86 1013.67L1410.88 1012.13L1412.89 1010.61L1414.91 1009.09L1416.93 1007.58L1418.95 1006.07L1420.96 1004.58L1422.98 1003.08L1425 1001.6L1425 1148.4L1422.98 1148.48L1420.96 1148.56L1418.95 1148.64L1416.93 1148.71L1414.91 1148.78L1412.89 1148.84L1410.88 1148.9L1408.86 1148.95L1406.84 1149.01L1404.82 1149.06L1402.81 1149.1L1400.79 1149.14L1398.77 1149.18L1396.75 1149.22L1394.73 1149.25L1392.72 1149.28L1390.7 1149.31L1388.68 1149.34L1386.66 1149.36L1384.65 1149.39L1382.63 1149.41L1380.61 1149.42L1378.59 1149.44L1376.58 1149.46L1374.56 1149.47L1372.54 1149.48L1370.52 1149.49L1368.5 1149.5L1366.49 1149.51L1364.47 1149.52L1362.45 1149.53L1360.43 1149.54L1358.42 1149.54L1356.4 1149.55L1354.38 1149.55L1352.36 1149.56L1350.34 1149.57L1348.33 1149.57L1346.31 1149.58L1344.29 1149.59L1342.27 1149.6L1340.26 1149.61L1338.24 1149.62L1336.22 1149.63L1334.2 1149.64L1332.19 1149.65L1330.17 1149.67L1328.15 1149.68L1326.13 1149.7L1324.11 1149.72L1322.1 1149.74L1320.08 1149.76L1318.06 1149.79L1316.04 1149.82L1314.03 1149.85L1312.01 1149.88L1309.99 1149.92L1307.97 1149.96L1305.96 1150L1303.94 1150.04L1301.92 1150.09L1299.9 1150.14L1297.88 1150.2L1295.87 1150.25L1293.85 1150.32L1291.83 1150.38L1289.81 1150.45L1287.8 1150.53L1285.78 1150.6L1283.76 1150.69L1281.74 1150.77L1279.72 1150.87L1277.71 1150.96L1275.69 1151.06L1273.67 1151.17L1271.65 1151.28L1269.64 1151.4L1267.62 1151.52L1265.6 1151.65L1263.58 1151.78L1261.57 1151.92L1259.55 1152.07L1257.53 1152.22L1255.51 1152.38L1253.49 1152.54L1251.48 1152.71L1249.46 1152.89L1247.44 1153.07L1245.42 1153.26L1243.41 1153.46L1241.39 1153.66L1239.37 1153.88L1237.35 1154.09L1235.34 1154.32L1233.32 1154.56L1231.3 1154.8L1229.29 1155.21L1227.27 1155.62L1225.26 1156.05L1223.24 1156.48L1221.23 1156.92L1219.21 1157.36L1217.2 1157.82L1215.18 1158.28L1213.17 1158.75L1211.16 1159.23L1209.14 1159.71L1207.13 1160.2L1205.11 1160.7L1203.1 1161.21L1201.08 1161.73L1199.07 1162.25L1197.06 1162.78L1195.04 1163.32L1193.03 1163.86L1191.01 1164.42L1189 1164.98L1186.98 1165.55L1184.97 1166.12L1182.95 1166.7L1180.94 1167.29L1178.93 1167.89L1176.91 1168.49L1174.9 1169.11L1172.88 1169.72L1170.87 1170.35L1168.85 1170.98L1166.84 1171.62L1164.82 1172.27L1162.81 1172.93L1160.8 1173.59L1158.78 1174.26L1156.77 1174.93L1154.75 1175.61L1152.74 1176.3L1150.72 1177L1148.71 1177.7L1146.69 1178.41L1144.68 1179.13L1142.67 1179.85L1140.65 1180.58L1138.64 1181.32L1136.62 1182.06L1134.61 1182.81L1132.59 1183.57L1130.58 1184.33L1128.57 1185.1L1126.55 1185.88L1124.54 1186.66L1122.52 1187.45L1120.51 1188.25L1118.49 1189.05L1116.48 1189.86L1114.46 1190.68L1112.45 1191.5L1110.44 1192.33L1108.42 1193.16L1106.41 1194L1104.39 1194.85L1102.38 1195.7L1100.36 1196.56L1098.35 1197.43L1096.33 1198.3L1094.32 1199.17L1092.31 1200.05L1090.29 1200.94L1088.28 1201.83L1086.26 1202.73L1084.25 1203.63L1082.23 1204.54L1080.22 1205.45L1078.21 1206.37L1076.19 1207.29L1074.18 1208.22L1072.16 1209.15L1070.15 1210.08L1068.13 1211.02L1066.12 1211.97L1064.1 1212.91L1062.09 1213.87L1060.08 1214.82L1058.06 1215.78L1056.05 1216.74L1054.03 1217.71L1052.02 1218.68L1050 1219.65L1047.99 1220.63L1045.97 1221.61L1043.96 1222.59L1041.95 1223.57L1039.93 1224.56L1037.92 1225.55L1035.9 1226.54L1033.89 1227.54L1031.87 1228.54L1029.86 1229.54L1027.84 1230.54L1025.83 1231.54L1023.82 1232.55L1021.8 1233.56L1019.79 1234.57L1017.77 1235.58L1015.76 1236.59L1013.74 1237.61L1011.73 1238.62L1009.72 1239.64L1007.7 1240.66L1005.69 1241.68L1003.67 1242.69L1001.66 1243.72L999.64 1244.74L997.63 1245.76L995.61 1246.78L993.6 1247.8Z" fill="#a1a1a1" fill-opacity="0.65"/>
<path d="M993.6 1154.7L995.61 1154.75L997.63 1154.8L999.64 1154.86L1001.66 1154.93L1003.67 1155.01L1005.69 1155.09L1007.7 1155.17L1009.72 1155.26L1011.73 1155.36L1013.74 1155.46L1015.76 1155.57L1017.77 1155.68L1019.79 1155.8L1021.8 1155.92L1023.82 1156.04L1025.83 1156.17L1027.84 1156.3L1029.86 1156.44L1031.87 1156.58L1033.89 1156.72L1035.9 1156.87L1037.92 1157.02L1039.93 1157.17L1041.95 1157.32L1043.96 1157.48L1045.97 1157.64L1047.99 1157.8L1050 1157.96L1052.02 1158.13L1054.03 1158.29L1056.05 1158.46L1058.06 1158.62L1060.08 1158.79L1062.09 1158.96L1064.1 1159.13L1066.12 1159.3L1068.13 1159.46L1070.15 1159.63L1072.16 1159.8L1074.18 1159.97L1076.19 1160.13L1078.21 1160.3L1080.22 1160.46L1082.23 1160.62L1084.25 1160.78L1086.26 1160.94L1088.28 1161.1L1090.29 1161.25L1092.31 1161.41L1094.32 1161.56L1096.33 1161.7L1098.35 1161.85L1100.36 1161.99L1102.38 1162.12L1104.39 1162.26L1106.41 1162.38L1108.42 1162.51L1110.44 1162.63L1112.45 1162.75L1114.46 1162.86L1116.48 1162.97L1118.49 1163.07L1120.51 1163.17L1122.52 1163.26L1124.54 1163.35L1126.55 1163.43L1128.57 1163.5L1130.58 1163.57L1132.59 1163.63L1134.61 1163.69L1136.62 1163.74L1138.64 1163.78L1140.65 1163.81L1142.67 1163.84L1144.68 1163.86L1146.69 1163.87L1148.71 1163.88L1150.72 1163.87L1152.74 1163.86L1154.75 1163.84L1156.77 1163.81L1158.78 1163.77L1160.8 1163.72L1162.81 1163.67L1164.82 1163.6L1166.84 1163.52L1168.85 1163.44L1170.87 1163.34L1172.88 1163.23L1174.9 1163.12L1176.91 1162.99L1178.93 1162.85L1180.94 1162.7L1182.95 1162.54L1184.97 1162.37L1186.98 1162.19L1189 1161.99L1191.01 1161.78L1193.03 1161.56L1195.04 1161.33L1197.06 1161.09L1199.07 1160.83L1201.08 1160.56L1203.1 1160.27L1205.11 1159.98L1207.13 1159.66L1209.14 1159.34L1211.16 1159L1213.17 1158.65L1215.18 1158.28L1217.2 1157.9L1219.21 1157.5L1221.23 1157.09L1223.24 1156.66L1225.26 1156.22L1227.27 1155.76L1229.29 1155.29L1231.3 1154.8L1425 1074.4" fill="none" stroke="#9b4652" stroke-width="2.1" stroke-linejoin="round" stroke-linecap="round"/>
<path d="M912.9 863.4V1309.3H1547.8" fill="none" stroke="#1a1a1a" stroke-width="2.4" stroke-linecap="round" stroke-linejoin="round"/>
<line x1="903.4" y1="878.45" x2="912.9" y2="878.45" stroke="#111" stroke-width="2.2" stroke-linecap="round"/>
<text x="902.4" y="887.55" font-size="29.6" text-anchor="end" letter-spacing="-1.1">2</text>
<line x1="903.4" y1="920.43" x2="912.9" y2="920.43" stroke="#111" stroke-width="2.2" stroke-linecap="round"/>
<text x="902.4" y="929.53" font-size="29.6" text-anchor="end" letter-spacing="-1.1">1.8</text>
<line x1="903.4" y1="967.35" x2="912.9" y2="967.35" stroke="#111" stroke-width="2.2" stroke-linecap="round"/>
<text x="902.4" y="976.45" font-size="29.6" text-anchor="end" letter-spacing="-1.1">1.6</text>
<line x1="903.4" y1="1020.55" x2="912.9" y2="1020.55" stroke="#111" stroke-width="2.2" stroke-linecap="round"/>
<text x="902.4" y="1029.65" font-size="29.6" text-anchor="end" letter-spacing="-1.1">1.4</text>
<line x1="903.4" y1="1081.96" x2="912.9" y2="1081.96" stroke="#111" stroke-width="2.2" stroke-linecap="round"/>
<text x="902.4" y="1091.06" font-size="29.6" text-anchor="end" letter-spacing="-1.1">1.2</text>
<line x1="903.4" y1="1154.6" x2="912.9" y2="1154.6" stroke="#111" stroke-width="2.2" stroke-linecap="round"/>
<text x="902.4" y="1162.7" font-size="29.6" text-anchor="end" letter-spacing="-1.1">1</text>
<line x1="903.4" y1="1243.5" x2="912.9" y2="1243.5" stroke="#111" stroke-width="2.2" stroke-linecap="round"/>
<text x="902.4" y="1252.6" font-size="29.6" text-anchor="end" letter-spacing="-1.1">.8</text>
<line x1="924.14" y1="1309.3" x2="924.14" y2="1317.6" stroke="#111" stroke-width="2.2" stroke-linecap="round"/>
<text x="925.44" y="1340" font-size="29.6" text-anchor="middle" letter-spacing="-1.1">−2</text>
<line x1="1000.68" y1="1309.3" x2="1000.68" y2="1317.6" stroke="#111" stroke-width="2.2" stroke-linecap="round"/>
<text x="1001.98" y="1340" font-size="29.6" text-anchor="middle" letter-spacing="-1.1">−1.5</text>
<line x1="1077.22" y1="1309.3" x2="1077.22" y2="1317.6" stroke="#111" stroke-width="2.2" stroke-linecap="round"/>
<text x="1078.52" y="1340" font-size="29.6" text-anchor="middle" letter-spacing="-1.1">−1</text>
<line x1="1153.76" y1="1309.3" x2="1153.76" y2="1317.6" stroke="#111" stroke-width="2.2" stroke-linecap="round"/>
<text x="1155.06" y="1340" font-size="29.6" text-anchor="middle" letter-spacing="-1.1">−.5</text>
<line x1="1231.4" y1="1309.3" x2="1231.4" y2="1317.6" stroke="#111" stroke-width="2.2" stroke-linecap="round"/>
<text x="1230.2" y="1340" font-size="29.6" text-anchor="middle" letter-spacing="-1.1">0</text>
<line x1="1306.84" y1="1309.3" x2="1306.84" y2="1317.6" stroke="#111" stroke-width="2.2" stroke-linecap="round"/>
<text x="1305.64" y="1340" font-size="29.6" text-anchor="middle" letter-spacing="-1.1">.5</text>
<line x1="1383.38" y1="1309.3" x2="1383.38" y2="1317.6" stroke="#111" stroke-width="2.2" stroke-linecap="round"/>
<text x="1382.18" y="1340" font-size="29.6" text-anchor="middle" letter-spacing="-1.1">1</text>
<line x1="1459.92" y1="1309.3" x2="1459.92" y2="1317.6" stroke="#111" stroke-width="2.2" stroke-linecap="round"/>
<text x="1458.72" y="1340" font-size="29.6" text-anchor="middle" letter-spacing="-1.1">1.5</text>
<line x1="1536.46" y1="1309.3" x2="1536.46" y2="1317.6" stroke="#111" stroke-width="2.2" stroke-linecap="round"/>
<text x="1535.26" y="1340" font-size="29.6" text-anchor="middle" letter-spacing="-1.1">2</text>
<text x="1244.6" y="1377.2" font-size="39.7" text-anchor="middle" style="fill:#222">Change of calcium</text>
<text transform="translate(837.9 1075) rotate(-90) scale(1 1)" font-size="39.7" text-anchor="middle" style="fill:#222">Hazard Ratios</text>
<text transform="translate(1197.8 836.9) scale(1 1.05)" font-size="54.05" text-anchor="middle">No ACVD</text>
</g>
<text transform="translate(795.05 1485.8) scale(1 1.05)" font-size="53.97" text-anchor="middle">Baseline Ca ≥10.0 mg/dL</text>
<g>
<line x1="108.2" y1="1599.33" x2="740.5" y2="1599.33" stroke="#e9f1f3" stroke-width="2"/>
<line x1="108.2" y1="1641.26" x2="740.5" y2="1641.26" stroke="#e9f1f3" stroke-width="2"/>
<line x1="108.2" y1="1688.14" x2="740.5" y2="1688.14" stroke="#e9f1f3" stroke-width="2"/>
<line x1="108.2" y1="1741.28" x2="740.5" y2="1741.28" stroke="#e9f1f3" stroke-width="2"/>
<line x1="108.2" y1="1802.64" x2="740.5" y2="1802.64" stroke="#e9f1f3" stroke-width="2"/>
<line x1="108.2" y1="1875.2" x2="740.5" y2="1875.2" stroke="#e9f1f3" stroke-width="2"/>
<line x1="108.2" y1="1964.01" x2="740.5" y2="1964.01" stroke="#e9f1f3" stroke-width="2"/>
<line x1="105.2" y1="1875.2" x2="740.5" y2="1875.2" stroke="#111" stroke-width="2.2" stroke-dasharray="13.4 3.62"/>
<line x1="423.5" y1="2029.3" x2="423.5" y2="1586" stroke="#111" stroke-width="2.2" stroke-dasharray="13.4 3.62"/>
<path d="M118 1883.6L120.01 1884L122.02 1884.4L124.03 1884.79L126.04 1885.17L128.05 1885.55L130.06 1885.92L132.07 1886.29L134.08 1886.66L136.09 1887.01L138.1 1887.36L140.11 1887.71L142.12 1888.05L144.13 1888.38L146.14 1888.71L148.15 1889.03L150.16 1889.35L152.17 1889.66L154.18 1889.97L156.19 1890.27L158.2 1890.56L160.21 1890.85L162.22 1891.13L164.23 1891.41L166.24 1891.68L168.25 1891.94L170.26 1892.2L172.27 1892.45L174.28 1892.7L176.29 1892.94L178.3 1893.18L180.31 1893.41L182.32 1893.63L184.33 1893.85L186.34 1894.06L188.35 1894.27L190.36 1894.47L192.37 1894.66L194.38 1894.85L196.38 1895.03L198.39 1895.21L200.4 1895.38L202.41 1895.55L204.42 1895.7L206.43 1895.86L208.44 1896L210.45 1896.14L212.46 1896.28L214.47 1896.41L216.48 1896.53L218.49 1896.65L220.5 1896.76L222.51 1896.86L224.52 1896.96L226.53 1897.05L228.54 1897.14L230.55 1897.22L232.56 1897.29L234.57 1897.36L236.58 1897.42L238.59 1897.48L240.6 1897.53L242.61 1897.57L244.62 1897.61L246.63 1897.64L248.64 1897.66L250.65 1897.68L252.66 1897.7L254.67 1897.7L256.68 1897.7L258.69 1897.7L260.7 1897.68L262.71 1897.67L264.72 1897.64L266.73 1897.61L268.74 1897.57L270.75 1897.53L272.76 1897.48L274.77 1897.42L276.78 1897.36L278.79 1897.29L280.8 1897.22L282.81 1897.14L284.82 1897.05L286.83 1896.95L288.84 1896.85L290.85 1896.75L292.86 1896.63L294.87 1896.51L296.88 1896.39L298.89 1896.26L300.9 1896.12L302.91 1895.97L304.92 1895.82L306.93 1895.66L308.94 1895.5L310.95 1895.33L312.96 1895.15L314.97 1894.97L316.98 1894.78L318.99 1894.58L321 1894.38L323.01 1894.17L325.02 1893.95L327.03 1893.73L329.04 1893.5L331.05 1893.26L333.06 1893.02L335.07 1892.77L337.08 1892.52L339.09 1892.25L341.1 1891.99L343.11 1891.71L345.12 1891.43L347.12 1891.14L349.13 1890.85L351.14 1890.54L353.15 1890.24L355.16 1889.92L357.17 1889.6L359.18 1889.27L361.19 1888.94L363.2 1888.59L365.21 1888.25L367.22 1887.89L369.23 1887.53L371.24 1887.16L373.25 1886.79L375.26 1886.4L377.27 1886.02L379.28 1885.62L381.29 1885.22L383.3 1884.81L385.31 1884.39L387.32 1883.97L389.33 1883.54L391.34 1883.11L393.35 1882.66L395.36 1882.21L397.37 1881.76L399.38 1881.29L401.39 1880.82L403.4 1880.35L405.41 1879.86L407.42 1879.37L409.43 1878.87L411.44 1878.37L413.45 1877.86L415.46 1877.34L417.47 1876.82L419.48 1876.28L421.49 1875.74L423.5 1875.2L555 1763L555 1848L423.5 1875.2L421.49 1877.4L419.48 1879.56L417.47 1881.7L415.46 1883.8L413.45 1885.88L411.44 1887.92L409.43 1889.93L407.42 1891.91L405.41 1893.87L403.4 1895.79L401.39 1897.68L399.38 1899.55L397.37 1901.38L395.36 1903.19L393.35 1904.96L391.34 1906.71L389.33 1908.43L387.32 1910.12L385.31 1911.79L383.3 1913.42L381.29 1915.03L379.28 1916.61L377.27 1918.16L375.26 1919.68L373.25 1921.18L371.24 1922.65L369.23 1924.1L367.22 1925.51L365.21 1926.91L363.2 1928.27L361.19 1929.61L359.18 1930.92L357.17 1932.21L355.16 1933.47L353.15 1934.71L351.14 1935.92L349.13 1937.11L347.12 1938.27L345.12 1939.41L343.11 1940.52L341.1 1941.61L339.09 1942.68L337.08 1943.72L335.07 1944.74L333.06 1945.73L331.05 1946.71L329.04 1947.65L327.03 1948.58L325.02 1949.48L323.01 1950.36L321 1951.22L318.99 1952.06L316.98 1952.87L314.97 1953.66L312.96 1954.44L310.95 1955.18L308.94 1955.91L306.93 1956.62L304.92 1957.31L302.91 1957.97L300.9 1958.62L298.89 1959.24L296.88 1959.85L294.87 1960.43L292.86 1961L290.85 1961.54L288.84 1962.07L286.83 1962.58L284.82 1963.07L282.81 1963.54L280.8 1963.99L278.79 1964.42L276.78 1964.84L274.77 1965.24L272.76 1965.62L270.75 1965.98L268.74 1966.33L266.73 1966.66L264.72 1966.98L262.71 1967.28L260.7 1967.57L258.69 1967.84L256.68 1968.09L254.67 1968.34L252.66 1968.56L250.65 1968.78L248.64 1968.98L246.63 1969.17L244.62 1969.34L242.61 1969.5L240.6 1969.65L238.59 1969.79L236.58 1969.92L234.57 1970.03L232.56 1970.13L230.55 1970.23L228.54 1970.31L226.53 1970.38L224.52 1970.44L222.51 1970.5L220.5 1970.54L218.49 1970.57L216.48 1970.6L214.47 1970.62L212.46 1970.63L210.45 1970.63L208.44 1970.62L206.43 1970.61L204.42 1970.59L202.41 1970.56L200.4 1970.53L198.39 1970.49L196.38 1970.44L194.38 1970.39L192.37 1970.34L190.36 1970.28L188.35 1970.21L186.34 1970.14L184.33 1970.07L182.32 1969.99L180.31 1969.91L178.3 1969.83L176.29 1969.74L174.28 1969.66L172.27 1969.56L170.26 1969.47L168.25 1969.38L166.24 1969.28L164.23 1969.19L162.22 1969.09L160.21 1968.99L158.2 1968.9L156.19 1968.8L154.18 1968.7L152.17 1968.61L150.16 1968.51L148.15 1968.42L146.14 1968.33L144.13 1968.24L142.12 1968.15L140.11 1968.07L138.1 1967.99L136.09 1967.91L134.08 1967.83L132.07 1967.76L130.06 1967.7L128.05 1967.63L126.04 1967.58L124.03 1967.52L122.02 1967.48L120.01 1967.43L118 1967.4Z" fill="#a1a1a1" fill-opacity="0.65"/>
<path d="M118 1925.6L120.01 1925.73L122.02 1925.86L124.03 1926L126.04 1926.15L128.05 1926.29L130.06 1926.44L132.07 1926.6L134.08 1926.76L136.09 1926.92L138.1 1927.08L140.11 1927.25L142.12 1927.41L144.13 1927.58L146.14 1927.76L148.15 1927.93L150.16 1928.1L152.17 1928.28L154.18 1928.46L156.19 1928.63L158.2 1928.81L160.21 1928.99L162.22 1929.17L164.23 1929.34L166.24 1929.52L168.25 1929.69L170.26 1929.87L172.27 1930.04L174.28 1930.21L176.29 1930.38L178.3 1930.54L180.31 1930.71L182.32 1930.87L184.33 1931.03L186.34 1931.18L188.35 1931.34L190.36 1931.48L192.37 1931.63L194.38 1931.77L196.38 1931.9L198.39 1932.03L200.4 1932.16L202.41 1932.28L204.42 1932.4L206.43 1932.51L208.44 1932.61L210.45 1932.71L212.46 1932.8L214.47 1932.88L216.48 1932.96L218.49 1933.03L220.5 1933.09L222.51 1933.15L224.52 1933.2L226.53 1933.24L228.54 1933.27L230.55 1933.29L232.56 1933.31L234.57 1933.31L236.58 1933.31L238.59 1933.29L240.6 1933.27L242.61 1933.23L244.62 1933.19L246.63 1933.13L248.64 1933.07L250.65 1932.99L252.66 1932.9L254.67 1932.8L256.68 1932.69L258.69 1932.57L260.7 1932.43L262.71 1932.28L264.72 1932.12L266.73 1931.95L268.74 1931.76L270.75 1931.56L272.76 1931.34L274.77 1931.11L276.78 1930.87L278.79 1930.61L280.8 1930.34L282.81 1930.05L284.82 1929.75L286.83 1929.44L288.84 1929.1L290.85 1928.76L292.86 1928.4L294.87 1928.03L296.88 1927.64L298.89 1927.23L300.9 1926.82L302.91 1926.39L304.92 1925.94L306.93 1925.48L308.94 1925.01L310.95 1924.52L312.96 1924.01L314.97 1923.5L316.98 1922.97L318.99 1922.42L321 1921.86L323.01 1921.29L325.02 1920.7L327.03 1920.1L329.04 1919.48L331.05 1918.85L333.06 1918.21L335.07 1917.55L337.08 1916.88L339.09 1916.2L341.1 1915.5L343.11 1914.78L345.12 1914.06L347.12 1913.32L349.13 1912.56L351.14 1911.79L353.15 1911.01L355.16 1910.22L357.17 1909.41L359.18 1908.59L361.19 1907.75L363.2 1906.9L365.21 1906.03L367.22 1905.16L369.23 1904.27L371.24 1903.36L373.25 1902.45L375.26 1901.51L377.27 1900.57L379.28 1899.61L381.29 1898.64L383.3 1897.66L385.31 1896.66L387.32 1895.65L389.33 1894.62L391.34 1893.58L393.35 1892.53L395.36 1891.47L397.37 1890.39L399.38 1889.3L401.39 1888.2L403.4 1887.08L405.41 1885.95L407.42 1884.81L409.43 1883.65L411.44 1882.48L413.45 1881.3L415.46 1880.11L417.47 1878.9L419.48 1877.68L421.49 1876.44L423.5 1875.2L555 1805" fill="none" stroke="#9b4652" stroke-width="2.1" stroke-linejoin="round" stroke-linecap="round"/>
<path d="M105.2 1586V2029.3H740.5" fill="none" stroke="#1a1a1a" stroke-width="2.4" stroke-linecap="round" stroke-linejoin="round"/>
<line x1="95.7" y1="1599.33" x2="105.2" y2="1599.33" stroke="#111" stroke-width="2.2" stroke-linecap="round"/>
<text x="94.7" y="1608.43" font-size="29.6" text-anchor="end" letter-spacing="-1.1">2</text>
<line x1="95.7" y1="1641.26" x2="105.2" y2="1641.26" stroke="#111" stroke-width="2.2" stroke-linecap="round"/>
<text x="94.7" y="1650.36" font-size="29.6" text-anchor="end" letter-spacing="-1.1">1.8</text>
<line x1="95.7" y1="1688.14" x2="105.2" y2="1688.14" stroke="#111" stroke-width="2.2" stroke-linecap="round"/>
<text x="94.7" y="1697.24" font-size="29.6" text-anchor="end" letter-spacing="-1.1">1.6</text>
<line x1="95.7" y1="1741.28" x2="105.2" y2="1741.28" stroke="#111" stroke-width="2.2" stroke-linecap="round"/>
<text x="94.7" y="1750.38" font-size="29.6" text-anchor="end" letter-spacing="-1.1">1.4</text>
<line x1="95.7" y1="1802.64" x2="105.2" y2="1802.64" stroke="#111" stroke-width="2.2" stroke-linecap="round"/>
<text x="94.7" y="1811.74" font-size="29.6" text-anchor="end" letter-spacing="-1.1">1.2</text>
<line x1="95.7" y1="1875.2" x2="105.2" y2="1875.2" stroke="#111" stroke-width="2.2" stroke-linecap="round"/>
<text x="94.7" y="1883.3" font-size="29.6" text-anchor="end" letter-spacing="-1.1">1</text>
<line x1="95.7" y1="1964.01" x2="105.2" y2="1964.01" stroke="#111" stroke-width="2.2" stroke-linecap="round"/>
<text x="94.7" y="1973.11" font-size="29.6" text-anchor="end" letter-spacing="-1.1">.8</text>
<line x1="116.67" y1="2029.3" x2="116.67" y2="2037.6" stroke="#111" stroke-width="2.2" stroke-linecap="round"/>
<text x="117.97" y="2060" font-size="29.6" text-anchor="middle" letter-spacing="-1.1">−2</text>
<line x1="193.22" y1="2029.3" x2="193.22" y2="2037.6" stroke="#111" stroke-width="2.2" stroke-linecap="round"/>
<text x="194.52" y="2060" font-size="29.6" text-anchor="middle" letter-spacing="-1.1">−1.5</text>
<line x1="269.76" y1="2029.3" x2="269.76" y2="2037.6" stroke="#111" stroke-width="2.2" stroke-linecap="round"/>
<text x="271.06" y="2060" font-size="29.6" text-anchor="middle" letter-spacing="-1.1">−1</text>
<line x1="346.31" y1="2029.3" x2="346.31" y2="2037.6" stroke="#111" stroke-width="2.2" stroke-linecap="round"/>
<text x="347.61" y="2060" font-size="29.6" text-anchor="middle" letter-spacing="-1.1">−.5</text>
<line x1="423.5" y1="2029.3" x2="423.5" y2="2037.6" stroke="#111" stroke-width="2.2" stroke-linecap="round"/>
<text x="422.3" y="2060" font-size="29.6" text-anchor="middle" letter-spacing="-1.1">0</text>
<line x1="499.4" y1="2029.3" x2="499.4" y2="2037.6" stroke="#111" stroke-width="2.2" stroke-linecap="round"/>
<text x="498.2" y="2060" font-size="29.6" text-anchor="middle" letter-spacing="-1.1">.5</text>
<line x1="575.94" y1="2029.3" x2="575.94" y2="2037.6" stroke="#111" stroke-width="2.2" stroke-linecap="round"/>
<text x="574.74" y="2060" font-size="29.6" text-anchor="middle" letter-spacing="-1.1">1</text>
<line x1="652.49" y1="2029.3" x2="652.49" y2="2037.6" stroke="#111" stroke-width="2.2" stroke-linecap="round"/>
<text x="651.28" y="2060" font-size="29.6" text-anchor="middle" letter-spacing="-1.1">1.5</text>
<line x1="729.03" y1="2029.3" x2="729.03" y2="2037.6" stroke="#111" stroke-width="2.2" stroke-linecap="round"/>
<text x="727.83" y="2060" font-size="29.6" text-anchor="middle" letter-spacing="-1.1">2</text>
<text x="436.9" y="2099.4" font-size="39.7" text-anchor="middle" style="fill:#222">Change of calcium</text>
<text transform="translate(30.2 1795.8) rotate(-90) scale(1 1)" font-size="39.7" text-anchor="middle" style="fill:#222">Hazard Ratios</text>
<text transform="translate(390.05 1561.8) scale(1 1.05)" font-size="54.05" text-anchor="middle">ACVD</text>
</g>
<g>
<line x1="915.9" y1="1599.33" x2="1547.8" y2="1599.33" stroke="#e9f1f3" stroke-width="2"/>
<line x1="915.9" y1="1641.26" x2="1547.8" y2="1641.26" stroke="#e9f1f3" stroke-width="2"/>
<line x1="915.9" y1="1688.14" x2="1547.8" y2="1688.14" stroke="#e9f1f3" stroke-width="2"/>
<line x1="915.9" y1="1741.28" x2="1547.8" y2="1741.28" stroke="#e9f1f3" stroke-width="2"/>
<line x1="915.9" y1="1802.64" x2="1547.8" y2="1802.64" stroke="#e9f1f3" stroke-width="2"/>
<line x1="915.9" y1="1875.2" x2="1547.8" y2="1875.2" stroke="#e9f1f3" stroke-width="2"/>
<line x1="915.9" y1="1964.01" x2="1547.8" y2="1964.01" stroke="#e9f1f3" stroke-width="2"/>
<line x1="912.9" y1="1875.2" x2="1547.8" y2="1875.2" stroke="#111" stroke-width="2.2" stroke-dasharray="13.4 3.62"/>
<line x1="1231.4" y1="2029.3" x2="1231.4" y2="1586" stroke="#111" stroke-width="2.2" stroke-dasharray="13.4 3.62"/>
<path d="M925.4 1893L927.4 1893.24L929.4 1893.47L931.4 1893.7L933.4 1893.92L935.4 1894.14L937.4 1894.36L939.4 1894.57L941.41 1894.78L943.41 1894.99L945.41 1895.19L947.41 1895.38L949.41 1895.57L951.41 1895.76L953.41 1895.95L955.41 1896.13L957.41 1896.3L959.41 1896.48L961.41 1896.64L963.41 1896.81L965.41 1896.97L967.41 1897.12L969.41 1897.27L971.42 1897.42L973.42 1897.56L975.42 1897.7L977.42 1897.83L979.42 1897.96L981.42 1898.09L983.42 1898.21L985.42 1898.33L987.42 1898.44L989.42 1898.55L991.42 1898.65L993.42 1898.75L995.42 1898.84L997.42 1898.93L999.42 1899.02L1001.42 1899.1L1003.43 1899.18L1005.43 1899.25L1007.43 1899.32L1009.43 1899.38L1011.43 1899.44L1013.43 1899.5L1015.43 1899.55L1017.43 1899.59L1019.43 1899.63L1021.43 1899.67L1023.43 1899.7L1025.43 1899.73L1027.43 1899.75L1029.43 1899.77L1031.43 1899.78L1033.44 1899.79L1035.44 1899.79L1037.44 1899.79L1039.44 1899.79L1041.44 1899.78L1043.44 1899.76L1045.44 1899.74L1047.44 1899.72L1049.44 1899.69L1051.44 1899.66L1053.44 1899.62L1055.44 1899.57L1057.44 1899.52L1059.44 1899.47L1061.44 1899.41L1063.45 1899.35L1065.45 1899.28L1067.45 1899.21L1069.45 1899.13L1071.45 1899.05L1073.45 1898.96L1075.45 1898.87L1077.45 1898.77L1079.45 1898.67L1081.45 1898.56L1083.45 1898.45L1085.45 1898.33L1087.45 1898.21L1089.45 1898.08L1091.45 1897.95L1093.45 1897.81L1095.46 1897.66L1097.46 1897.52L1099.46 1897.36L1101.46 1897.2L1103.46 1897.04L1105.46 1896.87L1107.46 1896.7L1109.46 1896.52L1111.46 1896.33L1113.46 1896.15L1115.46 1895.95L1117.46 1895.75L1119.46 1895.54L1121.46 1895.33L1123.46 1895.12L1125.47 1894.9L1127.47 1894.67L1129.47 1894.44L1131.47 1894.2L1133.47 1893.96L1135.47 1893.71L1137.47 1893.46L1139.47 1893.2L1141.47 1892.93L1143.47 1892.66L1145.47 1892.39L1147.47 1892.11L1149.47 1891.82L1151.47 1891.53L1153.47 1891.23L1155.48 1890.93L1157.48 1890.62L1159.48 1890.31L1161.48 1889.99L1163.48 1889.66L1165.48 1889.33L1167.48 1889L1169.48 1888.66L1171.48 1888.31L1173.48 1887.96L1175.48 1887.6L1177.48 1887.23L1179.48 1886.86L1181.48 1886.49L1183.48 1886.11L1185.48 1885.72L1187.49 1885.33L1189.49 1884.93L1191.49 1884.52L1193.49 1884.11L1195.49 1883.7L1197.49 1883.27L1199.49 1882.85L1201.49 1882.41L1203.49 1881.97L1205.49 1881.53L1207.49 1881.08L1209.49 1880.62L1211.49 1880.16L1213.49 1879.69L1215.49 1879.21L1217.5 1878.73L1219.5 1878.25L1221.5 1877.75L1223.5 1877.25L1225.5 1876.75L1227.5 1876.24L1229.5 1875.72L1231.5 1875.2L1364 1761L1364 1849L1231.5 1875.2L1229.5 1877.45L1227.5 1879.66L1225.5 1881.84L1223.5 1883.98L1221.5 1886.09L1219.5 1888.17L1217.5 1890.21L1215.49 1892.22L1213.49 1894.19L1211.49 1896.14L1209.49 1898.05L1207.49 1899.93L1205.49 1901.77L1203.49 1903.59L1201.49 1905.38L1199.49 1907.13L1197.49 1908.85L1195.49 1910.54L1193.49 1912.21L1191.49 1913.84L1189.49 1915.44L1187.49 1917.01L1185.48 1918.56L1183.48 1920.07L1181.48 1921.56L1179.48 1923.02L1177.48 1924.45L1175.48 1925.85L1173.48 1927.23L1171.48 1928.58L1169.48 1929.9L1167.48 1931.19L1165.48 1932.46L1163.48 1933.7L1161.48 1934.92L1159.48 1936.11L1157.48 1937.28L1155.48 1938.42L1153.47 1939.54L1151.47 1940.63L1149.47 1941.7L1147.47 1942.74L1145.47 1943.76L1143.47 1944.76L1141.47 1945.73L1139.47 1946.68L1137.47 1947.61L1135.47 1948.52L1133.47 1949.41L1131.47 1950.27L1129.47 1951.11L1127.47 1951.93L1125.47 1952.73L1123.46 1953.51L1121.46 1954.27L1119.46 1955.01L1117.46 1955.73L1115.46 1956.43L1113.46 1957.11L1111.46 1957.77L1109.46 1958.42L1107.46 1959.04L1105.46 1959.65L1103.46 1960.24L1101.46 1960.81L1099.46 1961.37L1097.46 1961.91L1095.46 1962.43L1093.45 1962.93L1091.45 1963.42L1089.45 1963.89L1087.45 1964.35L1085.45 1964.79L1083.45 1965.22L1081.45 1965.63L1079.45 1966.03L1077.45 1966.41L1075.45 1966.78L1073.45 1967.14L1071.45 1967.48L1069.45 1967.81L1067.45 1968.13L1065.45 1968.43L1063.45 1968.72L1061.44 1969L1059.44 1969.27L1057.44 1969.53L1055.44 1969.77L1053.44 1970.01L1051.44 1970.23L1049.44 1970.45L1047.44 1970.65L1045.44 1970.84L1043.44 1971.03L1041.44 1971.2L1039.44 1971.37L1037.44 1971.53L1035.44 1971.68L1033.44 1971.82L1031.43 1971.95L1029.43 1972.08L1027.43 1972.19L1025.43 1972.31L1023.43 1972.41L1021.43 1972.51L1019.43 1972.6L1017.43 1972.69L1015.43 1972.77L1013.43 1972.84L1011.43 1972.91L1009.43 1972.98L1007.43 1973.04L1005.43 1973.09L1003.43 1973.14L1001.42 1973.19L999.42 1973.24L997.42 1973.28L995.42 1973.32L993.42 1973.35L991.42 1973.39L989.42 1973.42L987.42 1973.45L985.42 1973.48L983.42 1973.51L981.42 1973.53L979.42 1973.56L977.42 1973.58L975.42 1973.61L973.42 1973.63L971.42 1973.66L969.41 1973.69L967.41 1973.71L965.41 1973.74L963.41 1973.77L961.41 1973.81L959.41 1973.84L957.41 1973.88L955.41 1973.91L953.41 1973.96L951.41 1974L949.41 1974.05L947.41 1974.1L945.41 1974.16L943.41 1974.22L941.41 1974.28L939.4 1974.35L937.4 1974.43L935.4 1974.51L933.4 1974.59L931.4 1974.69L929.4 1974.78L927.4 1974.89L925.4 1975Z" fill="#a1a1a1" fill-opacity="0.65"/>
<path d="M925.4 1934L927.4 1934L929.4 1934L931.4 1934L933.4 1934.01L935.4 1934.02L937.4 1934.04L939.4 1934.06L941.41 1934.09L943.41 1934.11L945.41 1934.14L947.41 1934.18L949.41 1934.21L951.41 1934.25L953.41 1934.29L955.41 1934.33L957.41 1934.37L959.41 1934.42L961.41 1934.47L963.41 1934.52L965.41 1934.56L967.41 1934.61L969.41 1934.66L971.42 1934.72L973.42 1934.77L975.42 1934.82L977.42 1934.87L979.42 1934.92L981.42 1934.97L983.42 1935.02L985.42 1935.07L987.42 1935.11L989.42 1935.16L991.42 1935.2L993.42 1935.25L995.42 1935.29L997.42 1935.33L999.42 1935.36L1001.42 1935.4L1003.43 1935.43L1005.43 1935.46L1007.43 1935.48L1009.43 1935.5L1011.43 1935.52L1013.43 1935.53L1015.43 1935.55L1017.43 1935.55L1019.43 1935.55L1021.43 1935.55L1023.43 1935.54L1025.43 1935.53L1027.43 1935.52L1029.43 1935.49L1031.43 1935.47L1033.44 1935.43L1035.44 1935.39L1037.44 1935.35L1039.44 1935.3L1041.44 1935.24L1043.44 1935.17L1045.44 1935.1L1047.44 1935.02L1049.44 1934.94L1051.44 1934.84L1053.44 1934.74L1055.44 1934.63L1057.44 1934.52L1059.44 1934.39L1061.44 1934.26L1063.45 1934.12L1065.45 1933.97L1067.45 1933.81L1069.45 1933.64L1071.45 1933.46L1073.45 1933.27L1075.45 1933.07L1077.45 1932.86L1079.45 1932.65L1081.45 1932.42L1083.45 1932.18L1085.45 1931.93L1087.45 1931.67L1089.45 1931.4L1091.45 1931.11L1093.45 1930.82L1095.46 1930.51L1097.46 1930.19L1099.46 1929.86L1101.46 1929.52L1103.46 1929.16L1105.46 1928.8L1107.46 1928.41L1109.46 1928.02L1111.46 1927.62L1113.46 1927.2L1115.46 1926.76L1117.46 1926.32L1119.46 1925.86L1121.46 1925.39L1123.46 1924.9L1125.47 1924.4L1127.47 1923.89L1129.47 1923.36L1131.47 1922.82L1133.47 1922.26L1135.47 1921.69L1137.47 1921.11L1139.47 1920.51L1141.47 1919.89L1143.47 1919.27L1145.47 1918.62L1147.47 1917.96L1149.47 1917.29L1151.47 1916.6L1153.47 1915.9L1155.48 1915.18L1157.48 1914.44L1159.48 1913.69L1161.48 1912.93L1163.48 1912.14L1165.48 1911.34L1167.48 1910.53L1169.48 1909.7L1171.48 1908.85L1173.48 1907.99L1175.48 1907.1L1177.48 1906.21L1179.48 1905.29L1181.48 1904.36L1183.48 1903.41L1185.48 1902.45L1187.49 1901.46L1189.49 1900.46L1191.49 1899.44L1193.49 1898.41L1195.49 1897.35L1197.49 1896.28L1199.49 1895.19L1201.49 1894.08L1203.49 1892.96L1205.49 1891.81L1207.49 1890.65L1209.49 1889.47L1211.49 1888.26L1213.49 1887.05L1215.49 1885.81L1217.5 1884.55L1219.5 1883.27L1221.5 1881.97L1223.5 1880.66L1225.5 1879.32L1227.5 1877.97L1229.5 1876.59L1231.5 1875.2L1364 1805" fill="none" stroke="#9b4652" stroke-width="2.1" stroke-linejoin="round" stroke-linecap="round"/>
<path d="M912.9 1586V2029.3H1547.8" fill="none" stroke="#1a1a1a" stroke-width="2.4" stroke-linecap="round" stroke-linejoin="round"/>
<line x1="903.4" y1="1599.33" x2="912.9" y2="1599.33" stroke="#111" stroke-width="2.2" stroke-linecap="round"/>
<text x="902.4" y="1608.43" font-size="29.6" text-anchor="end" letter-spacing="-1.1">2</text>
<line x1="903.4" y1="1641.26" x2="912.9" y2="1641.26" stroke="#111" stroke-width="2.2" stroke-linecap="round"/>
<text x="902.4" y="1650.36" font-size="29.6" text-anchor="end" letter-spacing="-1.1">1.8</text>
<line x1="903.4" y1="1688.14" x2="912.9" y2="1688.14" stroke="#111" stroke-width="2.2" stroke-linecap="round"/>
<text x="902.4" y="1697.24" font-size="29.6" text-anchor="end" letter-spacing="-1.1">1.6</text>
<line x1="903.4" y1="1741.28" x2="912.9" y2="1741.28" stroke="#111" stroke-width="2.2" stroke-linecap="round"/>
<text x="902.4" y="1750.38" font-size="29.6" text-anchor="end" letter-spacing="-1.1">1.4</text>
<line x1="903.4" y1="1802.64" x2="912.9" y2="1802.64" stroke="#111" stroke-width="2.2" stroke-linecap="round"/>
<text x="902.4" y="1811.74" font-size="29.6" text-anchor="end" letter-spacing="-1.1">1.2</text>
<line x1="903.4" y1="1875.2" x2="912.9" y2="1875.2" stroke="#111" stroke-width="2.2" stroke-linecap="round"/>
<text x="902.4" y="1883.3" font-size="29.6" text-anchor="end" letter-spacing="-1.1">1</text>
<line x1="903.4" y1="1964.01" x2="912.9" y2="1964.01" stroke="#111" stroke-width="2.2" stroke-linecap="round"/>
<text x="902.4" y="1973.11" font-size="29.6" text-anchor="end" letter-spacing="-1.1">.8</text>
<line x1="924.14" y1="2029.3" x2="924.14" y2="2037.6" stroke="#111" stroke-width="2.2" stroke-linecap="round"/>
<text x="925.44" y="2060" font-size="29.6" text-anchor="middle" letter-spacing="-1.1">−2</text>
<line x1="1000.68" y1="2029.3" x2="1000.68" y2="2037.6" stroke="#111" stroke-width="2.2" stroke-linecap="round"/>
<text x="1001.98" y="2060" font-size="29.6" text-anchor="middle" letter-spacing="-1.1">−1.5</text>
<line x1="1077.22" y1="2029.3" x2="1077.22" y2="2037.6" stroke="#111" stroke-width="2.2" stroke-linecap="round"/>
<text x="1078.52" y="2060" font-size="29.6" text-anchor="middle" letter-spacing="-1.1">−1</text>
<line x1="1153.76" y1="2029.3" x2="1153.76" y2="2037.6" stroke="#111" stroke-width="2.2" stroke-linecap="round"/>
<text x="1155.06" y="2060" font-size="29.6" text-anchor="middle" letter-spacing="-1.1">−.5</text>
<line x1="1231.4" y1="2029.3" x2="1231.4" y2="2037.6" stroke="#111" stroke-width="2.2" stroke-linecap="round"/>
<text x="1230.2" y="2060" font-size="29.6" text-anchor="middle" letter-spacing="-1.1">0</text>
<line x1="1306.84" y1="2029.3" x2="1306.84" y2="2037.6" stroke="#111" stroke-width="2.2" stroke-linecap="round"/>
<text x="1305.64" y="2060" font-size="29.6" text-anchor="middle" letter-spacing="-1.1">.5</text>
<line x1="1383.38" y1="2029.3" x2="1383.38" y2="2037.6" stroke="#111" stroke-width="2.2" stroke-linecap="round"/>
<text x="1382.18" y="2060" font-size="29.6" text-anchor="middle" letter-spacing="-1.1">1</text>
<line x1="1459.92" y1="2029.3" x2="1459.92" y2="2037.6" stroke="#111" stroke-width="2.2" stroke-linecap="round"/>
<text x="1458.72" y="2060" font-size="29.6" text-anchor="middle" letter-spacing="-1.1">1.5</text>
<line x1="1536.46" y1="2029.3" x2="1536.46" y2="2037.6" stroke="#111" stroke-width="2.2" stroke-linecap="round"/>
<text x="1535.26" y="2060" font-size="29.6" text-anchor="middle" letter-spacing="-1.1">2</text>
<text x="1244.6" y="2099.4" font-size="39.7" text-anchor="middle" style="fill:#222">Change of calcium</text>
<text transform="translate(837.9 1795.8) rotate(-90) scale(1 1)" font-size="39.7" text-anchor="middle" style="fill:#222">Hazard Ratios</text>
<text transform="translate(1197.8 1561.8) scale(1 1.05)" font-size="54.05" text-anchor="middle">No ACVD</text>
</g>
</svg></body></html>
